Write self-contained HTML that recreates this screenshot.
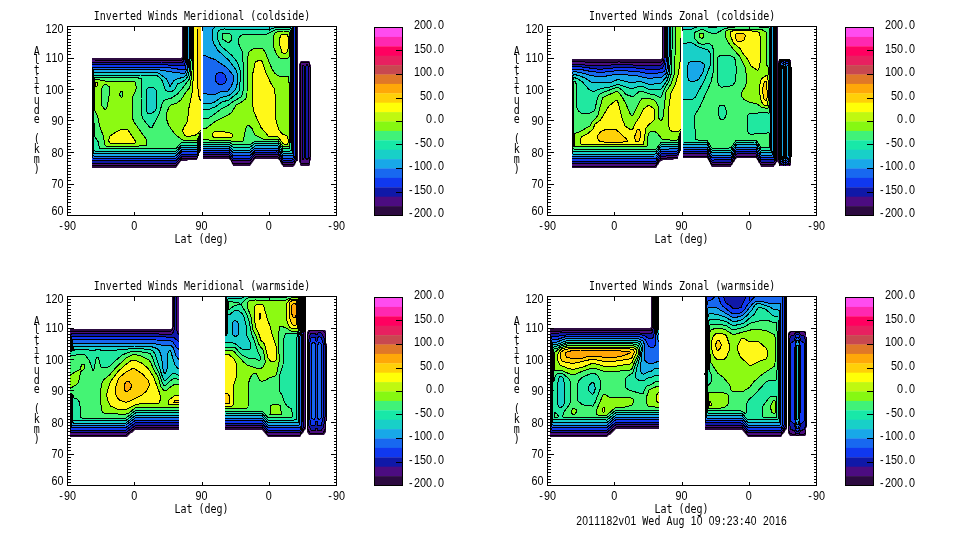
<!DOCTYPE html>
<html><head><meta charset="utf-8"><title>Inverted Winds</title>
<style>
html,body{margin:0;padding:0;background:#fff;overflow:hidden}
svg{display:block}
text{font-family:"DejaVu Sans Mono","Liberation Mono",monospace;font-size:10px;fill:#000}
.n{font-family:"Liberation Sans","DejaVu Sans",sans-serif;font-size:10.8px}
.d{font-family:"Liberation Sans","DejaVu Sans",sans-serif;font-size:10.35px}
.ln{fill:none;stroke:#000;stroke-width:1;shape-rendering:crispEdges}
.c{fill:none;stroke:#000;stroke-width:1;shape-rendering:crispEdges}
</style></head><body>
<svg width="960" height="540" viewBox="0 0 960 540">
<rect width="960" height="540" fill="#fff"/>
<path fill="#2c0a40" fill-rule="evenodd" d="M182 27l19 0l0 124l-2 2l0 2l-1 1l0 2l-1 1l0 1l-9 0l-1 1l-6 0l-5 7l-84 0l0 -110l89 0l1 -1l0 -30z"/><path fill="#4c0c80" fill-rule="evenodd" d="M183.5 27l17.5 0l0 122l-1 1.5l-3 7.5l-15 0.5l-6 7l-1 0l-83 0l0 -105.5l87 0.5l3 -0.5l1 -1.5l0.5 -1.5l0 -30z"/><path fill="#1018a8" fill-rule="evenodd" d="M184.5 27l16.5 0l0 120l-1 1l-3 8l-15 0.5l-6 6.5l-1 0l-83 0l0 -101l69 0l21 0.5l1.5 -1.5l1 -3l0 -31z"/><path fill="#1038f0" fill-rule="evenodd" d="M185.5 27l15.5 0l0 117.5l-1 1.5l-3 8l-15 0l-6 6.5l-1 0l-83 0l0 -96l69 0l21 1.5l2 -0.5l1 -2l0.5 -5.5l0 -31z"/><path fill="#1868f0" fill-rule="evenodd" d="M186.5 27l14.5 0l0 115.5l-1 1.5l-3 7.5l-15 0l-6 6.5l-1 0l-82 0l-0.5 -1l-0.5 -4l0 -69l0 -11l1 -5.5l2 -0.5l66 0l10 1l13 2l1 -0.5l0.5 -1.5l1 -6l0 -35z"/><path fill="#18a8e8" fill-rule="evenodd" d="M188 27l13 0l0 113.5l-1 1.5l-3 7.5l-15 0l-6 6l-1 0.5l-81 0l-1 -0.5l-0.5 -5.5l0 -70l0 -7l1 -3l1.5 -0.5l62 0l18 3l9 1l1 -0.5l2 -4l0.5 -6l0.5 -36z"/><path fill="#18d0c8" fill-rule="evenodd" d="M189 27l12 0l0 111.5l-1 1.5l-3 7.5l-15 -0.5l-1 0.5l-5 5.5l-1 0.5l-81 0l-0.5 -1.5l-0.5 -2l0 -66l0 -8l1 -3.5l63 0l3 1.5l6.5 5l3.5 7.5l4 -6l3 -1.5l7 -2l2 -1.5l1 -2.5l1 -5l1 -9l0 -32z"/><path fill="#20e8a0" fill-rule="evenodd" d="M190 27l11 0l0 109.5l-1 1l-3 8l-15 -0.5l-1 0.5l-5 5.5l-1 0l-81 -0.5l-0.5 -66.5l0.5 -8.5l2 -0.5l44 0l17 0.5l2 1.5l3.5 4l2 7l1 2l3.5 2l3 -0.5l3 -2.5l2.5 -5l5.5 -2.5l3 -2.5l2.5 -4l1 -6l0.5 -10l0 -32zM148 88l-1 1l-1 2l0 19l1.5 3l3.5 1l4 -3l1 -2l1 -9l-0.5 -7l-0.5 -3l-2 -2l-3 -1l-3 1z"/><path fill="#44f474" fill-rule="evenodd" d="M191 27l10 0l0 107.5l-1 1l-3 7.5l-15 -0.5l-1 0.5l-5 5.5l-1 0l-72 0l-3.5 -0.5l-1.5 -6.5l-3 -4l-0.5 -4.5l-0.5 -26l0 -28.5l1 -1l1 0l40 0l5 1l1 1.5l-0.5 8l-0.5 11l1 17l1 3l6 7.5l2 1.5l1 -0.5l7.5 -14.5l2.5 -9l1.5 -3l1.5 -1l6.5 -2l5.5 -3.5l5 -5.5l7 -9.5l1.5 -5.5l0.5 -13l0 -34z"/><path fill="#8cfa12" fill-rule="evenodd" d="M192.5 27l8.5 0l0 105l-1 1.5l-3 7.5l-1 0.5l-13.5 -1.5l-6.5 -5l-3.5 -4l-4 -6l-2 -6l0.5 -7l2 -5l2 -2l5 -1.5l5 -3.5l5 -8l3 -3.5l1 -2.5l1 -6l1 -8l0.5 -45zM94.5 80l0.5 -1l1 0l11 2.5l4 -0.5l21 0l2 0.5l1 0.5l1.5 6l-1.5 4l-2.5 5l-0.5 3l0 17l2 5l12 17l1 3l-1 3.5l-7 0.5l-31 0l-2 0l-1 -1l-2 -10l-3.5 -9l-1.5 -8.5l-3 -6.5l-1 -26l0.5 -5zM105 84.5l-2 1.5l-1 2l-0.5 15l0.5 3l3 3.5l1 -0.5l1.5 -3l1 -7l1 -5l0.5 -4l-0.5 -2l-0.5 -1.5l-3 -2l-1 0zM121 91l-1.5 3l0.5 1.5l1 1.5l1 0l1 -3l-1 -2.5l-1 -0.5z"/><path fill="#fff818" fill-rule="evenodd" d="M194 27l7 0l0 103l-3 3.5l-3 1.5l-3 1l-5 0.5l-2 -1l-2 -3.5l-0.5 -2l5 -9l1.5 -13.5l3.5 -16.5l1 -19l0.5 -45zM95.5 82l1.5 0l1 1l-1 3l-1 1l-1 -1.5l0 -2.5l0.5 -1zM122 129l4 0l2 1l7 10.5l0.5 2.5l-22.5 0.5l-3.5 -0.5l-1 -3l1.5 -4l6 -4l6 -3z"/><path fill="#ffd008" fill-rule="evenodd" d="M197 27l4 0l0 74l-1 -1.5l-1 -3l-1.5 -11.5l-0.5 -58z"/><path class="c" d="M92 60l87 0.5l3 -0.5l1 -1.5l0.5 -1.5l0 -30M201 149l-1 1.5l-3 7.5l-15 0.5l-6 7l-84 0M92 62l69 0l21 0.5l1.5 -1.5l1 -3l0 -31M201 147l-1 1l-3 8l-15 0.5l-6 6.5l-84 0M92 64.5l69 0l21 1.5l2 -0.5l1 -2l0.5 -5.5l0 -31M201 144.5l-1 1.5l-3 8l-15 0l-6 6.5l-84 0M201 142.5l-1 1.5l-3 7.5l-15 0l-6 6.5l-1 0l-81 0l-1 0l-1 -2l0 -81l1 -7.5l2 -0.5l66 0l10 1l13 2l1 -0.5l0.5 -1.5l1 -6l0 -35M201 140.5l-1 1.5l-3 7.5l-15 0l-6 6l-1 0.5l-81 0l-1 -0.5l-0.5 -1.5l0 -74l0 -7l1 -3l1.5 -0.5l62 0l18 3l9 1l1 -0.5l2 -4l0.5 -6l0.5 -36M201 138.5l-1 1.5l-3 7.5l-15 -0.5l-1 0.5l-5 5.5l-1 0.5l-80 0l-1.5 -0.5l-0.5 -2l0 -70l0 -6l1 -2.5l63 0l3 1.5l6.5 5l3.5 7.5l4 -6l3 -1.5l7 -2l2 -1.5l1 -2.5l1 -5l1 -9l0 -32M148 88l-1 1l-1 2l0 19l1.5 3l3.5 1l4 -3l1 -2l1 -9l-0.5 -7l-0.5 -3l-2 -2l-3 -1l-3 1M201 136.5l-1 1l-3 8l-15 -0.5l-1 0.5l-5 5.5l-81 0l-1 -1l-0.5 -67l0.5 -7.5l2 -0.5l44 0l17 0.5l2 1.5l3.5 4l2 7l1 2l3.5 2l3 -0.5l3 -2.5l2.5 -5l5.5 -2.5l3 -2.5l2.5 -4l1 -6l0.5 -10l0 -32M201 134.5l-1 1l-3 7.5l-15 -0.5l-1 0.5l-5 5.5l-1 0l-75 0l-0.5 -0.5l-1.5 -6.5l-3 -4.5l-1 -14l-0.5 -39l0.5 -5.5l1 -1l1 0l40 0l5 1l1 1.5l-0.5 8l-0.5 11l1 17l1 3l6 7.5l2 1.5l1 -0.5l7.5 -14.5l2.5 -9l1.5 -3l1.5 -1l6.5 -2l5.5 -3.5l5 -5.5l7 -9.5l1.5 -5.5l0.5 -13l0 -34M94.5 80l0.5 -1l1 0l11 2.5l4 -0.5l21 0l2 0.5l1 0.5l1.5 6l-1.5 4l-2.5 5l-0.5 3l0 17l2 5l12 17l1 3l-1 3.5l-7 0.5l-31 0l-2 0l-1 -1l-2 -10l-3.5 -9l-1.5 -8.5l-3 -6.5l-1 -26l0.5 -5M105 84.5l-2 1.5l-1 2l-0.5 15l0.5 3l3 3.5l1 -0.5l1.5 -3l1 -7l1 -5l0.5 -4l-0.5 -2l-0.5 -1.5l-3 -2l-1 0M121 91l-1.5 3l0.5 1.5l1 1.5l1 0l1 -3l-1 -2.5l-1 -0.5M201 132l-1 1.5l-3 7.5l-14.5 -1l-6.5 -5l-3.5 -4l-4 -6l-2 -6l0.5 -7l2 -5l2 -2l5 -1.5l5 -3.5l5 -8l3 -3.5l1 -2.5l1 -6l1 -8l0.5 -45M95.5 82l1.5 0l1 1l-1 3l-1 1l-1 -1.5l0 -2.5l0.5 -1M122 129l4 0l2 1l7 10.5l0.5 2.5l-22.5 0.5l-3.5 -0.5l-1 -3l1.5 -4l6 -4l6 -3M201 130l-3 3.5l-2.5 1.5l-6.5 1.5l-3 -0.5l-1 -0.5l-2.5 -4.5l1 -3l3.5 -6l0.5 -2l1.5 -12.5l3.5 -16.5l1 -19l0.5 -45M201 101l-1 -1.5l-1 -3l-1.5 -11.5l-0.5 -58"/><path fill="#2c0a40" fill-rule="evenodd" d="M203 27l95 0l0 134l-1 0l-1 1l-1 3l-2 2l-10 0l0 -1l-2 -2l-1 -3l-2 -2l-23 0l-5 7l-17 0l0 -1l-1 -1l-1 -3l-2 -2l-26 0l0 -132z"/><path fill="#4c0c80" fill-rule="evenodd" d="M203 27l93.5 0l0 132l-1 3l-2.5 2.5l-10 0l-5 -7.5l-1 -0.5l-21 0l-1 1l-5 6l-1 0l-16 0l-4 -6.5l-1 -0.5l-25 0l0 -129.5z"/><path fill="#1018a8" fill-rule="evenodd" d="M203 27l92.5 0l0 131l-0.5 2l-2 2.5l-10 0l-5 -8l-1 0l-21 0l-1 0.5l-5 5.5l-1 0.5l-16 -0.5l-4 -5.5l-1 -0.5l-25 0l0 -127.5z"/><path fill="#1038f0" fill-rule="evenodd" d="M203 27l92 0l0 129l-0.5 2l-1.5 2l-10 0l-5 -7.5l-1 -0.5l-21 0.5l-1 0l-5 5.5l-1 0l-16 0l-4 -5.5l-1 0l-25 0l0 -125.5z"/><path fill="#1868f0" fill-rule="evenodd" d="M203 27l91 0l0 127l-0.5 3l-0.5 1l-10 0l-5 -8l-1 0l-21 0l-1 0.5l-5 5l-1 0l-16 0l-4 -5l-1 0l-25 0l0 -123.5zM218 73l-1.5 1l-1.5 3l0.5 4l1.5 2l1.5 1l2.5 0.5l2 -0.5l2 -1l1 -2l0 -3l-1 -3l-3 -2.5l-2 -0.5l-2 1z"/><path fill="#18a8e8" fill-rule="evenodd" d="M203 27l90 0l0 126l0 2l-1 0.5l-9 0l-5 -7.5l-1 0l-21 0l-1 0l-5 4.5l-1 0l-16 0l-4 -4l-1 0l-25 0l0 -55.5l6 1.5l5 0.5l7 -3.5l7 -0.5l3 -4l2 -5l1 -4l-0.5 -2l-2 -3l-5.5 -6l-11 -7.5l-6 -2l-4 -2l-2 -0.5l0 -28z"/><path fill="#18d0c8" fill-rule="evenodd" d="M214 28l0.5 -1l77.5 0l0 126l-9 0l-5 -7l-1 -0.5l-21 0l-1 0.5l-5 4l-1 0l-16 0l-4 -3.5l-1 0l-25 0l0 -43l5 0.5l6 -1.5l7 -5l7 -1.5l2 -1l3 -3l2.5 -3l1.5 -4l0.5 -5l-0.5 -6l-2 -5.5l-6.5 -8.5l-10.5 -9.5l-4.5 -7.5l-1 -4l-0.5 -6l0 -2l2 -3z"/><path fill="#20e8a0" fill-rule="evenodd" d="M274.5 28l14.5 -0.5l1 0l1 1.5l0 121.5l-1 0.5l-7 0l-5 -7.5l-1 0l-22 0l-5 3.5l-1 0.5l-16 -0.5l-4 -2.5l-1 -0.5l-25 0l0 -35l5 0.5l2 -0.5l6 -2.5l6 -4.5l8 -3l7.5 -6l1.5 -3l1 -4l0.5 -10l-0.5 -7l-1.5 -5l-2 -3l-4.5 -5.5l-10 -8.5l-1.5 -2l-3 -6l0 -5l0 -2l2.5 -2l3 -1l43 1l8.5 -2z"/><path fill="#44f474" fill-rule="evenodd" d="M275.5 30l6.5 -0.5l7 0l1 0.5l0 1l0 117.5l-7 0l-5 -7l-1 0l-22 0l-5 3l-1 0l-16 0l-4 -2.5l-1 0l-25 0l0 -24l4 0.5l2 -0.5l13 -9.5l6 -3l6 -4.5l7 -4l1 -2l1 -5l1 -10l-0.5 -13l-0.5 -8l-1 -7l-3.5 -10l0 -3l1 -2l2.5 -2l6 -1l19 0l5.5 -3l3 -1zM224 33l5 0l2 2l1 3l-1 2.5l-1.5 1.5l-1.5 0.5l-1 -0.5l-4.5 -3l-0.5 -2l0 -2l1 -1.5l1 -0.5z"/><path fill="#8cfa12" fill-rule="evenodd" d="M283.5 31l4.5 0l1 1l0.5 23l-0.5 2l-1 1l-6 1l-3 -1.5l-2.5 -3.5l-3 -7l-0.5 -7l1 -5l1 -2l3 -1.5l5.5 -0.5zM260 48l2.5 1l2.5 3l2.5 5l4.5 12l3 4.5l3 2l4 1.5l6 -1l1 6.5l0 7.5l0.5 52l-0.5 4l-6 0.5l-5 -7l-14.5 -0.5l-7.5 -3l-1.5 -2l-2.5 -6l-3 -2.5l-2 0.5l-1 2l-3 13l-1 0.5l-9 0.5l-4 -2l-20 0l-6 -0.5l0 -10.5l3 -0.5l9 -7l14 -7l3 -2.5l4 -7l4 -2l5.5 -4l1 -2l0.5 -4l0.5 -33l1 -7l1.5 -2l2 -1.5l3 -1l5 -0.5z"/><path fill="#fff818" fill-rule="evenodd" d="M283 34l4 0l1 2.5l0 12.5l-1 3.5l-1 0.5l-3 0l-1 -0.5l-3 -9.5l0 -3l1 -2.5l1 -2.5l2 -1zM257.5 61l2.5 -0.5l1 0l1 1l4.5 12.5l4.5 9.5l3.5 5.5l1 10l0.5 21l2.5 9l2 3l2 2l4.5 2l1 3l0 4l-0.5 1l-3.5 0l-1 -0.5l-5 -6.5l-8 -0.5l-2 -0.5l-2 -3l-5 -5.5l-7 -15.5l-1.5 -8l0 -29l2.5 -12l1 -1.5l1.5 -0.5zM215 131l2 0l12 1.5l3 1.5l0.5 2l-0.5 1l-2 0.5l-16 0l-1.5 -1.5l0 -2l1.5 -2l1 -1z"/><path class="c" d="M296.5 27l0 131l0 2l-2.5 4l-2 1l-9 -0.5l-5 -7.5l-1 -0.5l-21 0l-1 1l-5 6l-1 0l-16 0l-4 -6.5l-1 -0.5l-25 0M295.5 27l0 130l0 2l-1.5 2.5l-2 1l-9 0l-5 -8l-1 0l-21 0l-1 0.5l-5 5.5l-1 0.5l-16 -0.5l-4 -5.5l-1 -0.5l-25 0M295 27l0 129l-1 3.5l-2 0.5l-9 0l-5 -7.5l-1 -0.5l-21 0.5l-1 0l-5 5.5l-1 0l-16 0l-4 -5.5l-1 0l-25 0M294 27l-0.5 130l-0.5 1l-1 0l-9 0l-5 -8l-1 0l-21 0l-1 0.5l-5 5l-1 0l-16 0l-4 -5l-1 0l-25 0M218 73l-1.5 1l-1.5 3l0.5 4l1.5 2l1.5 1l2.5 0.5l2 -0.5l2 -1l1 -2l0 -3l-1 -3l-3 -2.5l-2 -0.5l-2 1M293 27l0 128l-1 0.5l-9 0l-5 -7.5l-1 0l-21 0l-1 0l-5 4.5l-1 0l-16 0l-4 -4l-1 0l-25 0M203 93l6 1.5l5 0.5l7 -3.5l7 -0.5l3 -4l2 -5l1 -4l-0.5 -2l-2 -3l-5.5 -6l-11 -7.5l-6 -2l-4 -2l-2 -0.5M292 27l0 126l-9 0l-5 -7l-1 -0.5l-21 0l-1 0.5l-5 4l-1 0l-16 0l-4 -3.5l-1 0l-25 0M203 103.5l5 0.5l6 -1.5l7 -5l8 -2l3 -2.5l3 -3l1.5 -3l1 -5l0 -7l-1 -4l-1.5 -2.5l-6.5 -8.5l-10.5 -9.5l-4.5 -7.5l-1 -4l-0.5 -7l0.5 -2l2 -3M203 109l5 0.5l2 -0.5l6 -2.5l6 -4.5l7 -2l8 -6.5l2 -2.5l0.5 -3l1 -12l-0.5 -6l-1.5 -5l-2 -4l-4.5 -5.5l-10 -8.5l-2 -2.5l-2 -4.5l-0.5 -3l0 -4l1.5 -2.5l2 -1l3 -0.5l43 1l9 -2.5l14 0l1 1l0 1.5l0 12l0 108.5l-1 0.5l-7 0l-5 -7.5l-1 0l-22 0l-5 3.5l-1 0.5l-16 -0.5l-4 -2.5l-1 -0.5l-25 0M224 33l5 0l2 2l1 3l-1 2.5l-1.5 1.5l-1.5 0.5l-1 -0.5l-4.5 -3l-0.5 -2l0 -2l1 -1.5l1 -0.5M203 118l4 0.5l2 -0.5l13 -9.5l6 -3l6 -4.5l7 -4l1 -2l1.5 -6l0.5 -14l-1.5 -20l-0.5 -4l-3 -6.5l-0.5 -3.5l0.5 -3l1.5 -2l1.5 -1l6 -1l19 0l8 -4l6 -0.5l8 0l1 0.5l0 1l0.5 11l-0.5 106.5l-7 0l-5 -7l-1 0l-22 0l-5 3l-1 0l-16 0l-4 -2.5l-1 0l-25 0M283.5 31l4.5 0l1 1l0.5 23l-0.5 2l-1 1l-6 1l-3 -1.5l-2.5 -3.5l-3 -7l-0.5 -7l1 -5l1 -2l3 -1.5l5.5 -0.5M203 129l3 -0.5l9 -7l14 -7l3 -2.5l4 -7l4 -2l5.5 -4l1 -2l0.5 -4l0.5 -33l1 -7l1.5 -2l3 -2l3 -0.5l5 -0.5l2 1l2.5 4l6.5 16l3 4.5l3 2l4 1.5l6 -1l1 6.5l0 6.5l0.5 53l-0.5 4l-5 0.5l-1 0l-5 -7l-15 -0.5l-8 -4l-3 -6.5l-3 -3l-2 0.5l-1 2l-3 13l-1 0.5l-9 0.5l-4 -2l-20 0l-6 -0.5M283 34l4 0l1 2.5l0 12.5l-1 3.5l-1 0.5l-3 0l-1 -0.5l-3 -9.5l0 -3l1 -2.5l1 -2.5l2 -1M257.5 61l2.5 -0.5l1 0l1 1l4.5 12.5l4.5 9.5l3.5 5.5l1 10l0.5 21l2.5 9l2 3l2 2l4.5 2l1 3l0 4l-0.5 1l-3.5 0l-1 -0.5l-5 -6.5l-8 -0.5l-2 -0.5l-2 -3l-5 -5.5l-7 -15.5l-1.5 -8l0 -29l2.5 -12l1 -1.5l1.5 -0.5M215 131l2 0l12 1.5l3 1.5l0.5 2l-0.5 1l-2 0.5l-16 0l-1.5 -1.5l0 -2l1.5 -2l1 -1"/><path fill="#2c0a40" fill-rule="evenodd" d="M662 27l19 0l0 123l-2 3l0 2l-1 1l0 3l-4 0l-1 1l-10 0l-1 1l-1 0l-2 2l0 1l-2 2l0 1l-1 1l-84 0l0 -109l89 0l1 -1l0 -31z"/><path fill="#4c0c80" fill-rule="evenodd" d="M663 27l18 0l0 121l-3 9l-17 1.5l-5 7l-1 0.5l-83 0l0 -104.5l25 1l22 -0.5l29 0.5l13 -0.5l1 -1l0.5 -3l0.5 -31z"/><path fill="#1018a8" fill-rule="evenodd" d="M664.5 27l16.5 0l0 119l-3 8.5l-1 0.5l-16 1.5l-5 7l-1 0l-83 0l0 -99.5l25 2l21 -1.5l15 0.5l15 1l13 -1l2 -2l1 -4l0.5 -32z"/><path fill="#1038f0" fill-rule="evenodd" d="M665.5 27l15.5 0l0 116.5l-3 9l-1 0.5l-16 1l-5 7l-1 0l-83 0l0 -94.5l10 0.5l15 2l6 0l15 -1.5l18 0.5l13 1.5l11 -0.5l2 -0.5l2 -3l1 -5.5l0.5 -33z"/><path fill="#1868f0" fill-rule="evenodd" d="M666.5 27l14.5 0l0 114.5l-3 9l-1 0.5l-16 0.5l-5 7l-1 0l-83 0l0 -89.5l9 0.5l10 2l10 1l17 -2l20 1l11 2.5l13 -1.5l2 -1l1 -1.5l1 -6l0.5 -37z"/><path fill="#18a8e8" fill-rule="evenodd" d="M667.5 27l13.5 0l0 112.5l-3 9l-1 0l-16 1l-5 6.5l-1 0.5l-83 0l0 -82.5l1 -2l2 -0.5l5 1l11 3l6 1l7 0l13 -2.5l21 2l11 2.5l13 -1.5l4 -3.5l1 -4l0.5 -12.5l0 -30z"/><path fill="#18d0c8" fill-rule="evenodd" d="M669 27l12 0l0 110.5l-3 8.5l-1 0.5l-16 0.5l-5 6.5l-1 0.5l-82 0l-1 -3l0 -10l0 -58l1 -7.5l1 -1l5 1l6 2.5l6 4l4 0.5l7 -0.5l8 1l5 -2.5l3 -1l14 3.5l6 -1.5l4 0.5l8 2.5l11 -1.5l5 -5.5l2 -5.5l1 -15l0 -30z"/><path fill="#20e8a0" fill-rule="evenodd" d="M670.5 27l10.5 0l0 108.5l-3 8.5l-1 0.5l-16 0.5l-5 6.5l-1 0l-81 0l-1 -0.5l-0.5 -5l0 -62l0.5 -4.5l1 -2l3 1l5 3l7 8l3 1.5l3 0l6 -2.5l9 -1.5l7 -2.5l3 0.5l6 2l5 1.5l2 0l5 -2l4 -0.5l2 1l5 2.5l11 0.5l2 -2l5 -7.5l2.5 -7.5l1 -16l0 -30z"/><path fill="#44f474" fill-rule="evenodd" d="M672.5 27l8.5 0l0 106.5l-1 1.5l-2 7l-1 0.5l-16 0l-5 6.5l-1 0l-81 0l-1 -0.5l1 -67l1.5 0.5l1 3l0 19l0.5 4l2 3.5l2 1.5l2 1l6 -0.5l5 -2.5l1 -2l2.5 -11l1 -2l1.5 -2l3 -1.5l13 -5l3 0.5l3 2l4 4.5l6 2l2 -0.5l4.5 -4l3.5 -1l6 2.5l7 1.5l5 2.5l1 -0.5l3.5 -8l4.5 -8l2.5 -8l1 -46z"/><path fill="#8cfa12" fill-rule="evenodd" d="M675.5 27l5.5 0l0 104l-1.5 3l-1.5 5.5l-1 0.5l-6 0l-3 -1l-6 0l-6 -7l-2 -0.5l-3.5 0.5l-1.5 1l-1.5 5l-0.5 8l-1 0.5l-72 0l0 -11.5l1 -1.5l4 -1.5l11 -6l2 -4l4 -4l2 -3l4.5 -17l1.5 -1l12 -5.5l2 0.5l3.5 4l4 7l4.5 10.5l2 2.5l1 -1l6.5 -13l2.5 -3.5l2 -0.5l4 0l6 2l2 2l2 4l1 12.5l1 1.5l1 0.5l1 -1l1 -2.5l3 -25l5.5 -9l3 -10l0.5 -17l0.5 -29z"/><path fill="#fff818" fill-rule="evenodd" d="M681 38l0 91l-2 2l-5 1l-3 -1l-1 -1l-1 -2.5l-0.5 -3.5l0 -15l2.5 -16l4 -8l3.5 -11l2 -16l0.5 -20zM615 101l1 -1l1 0.5l1 2l4 15.5l3 8l2 1.5l4 2.5l1 -0.5l1 -1l2.5 -5.5l4 -6l3.5 -7l1 -1.5l3.5 -2.5l1.5 -0.5l2.5 1.5l2.5 2l0.5 5l-0.5 6l-6 5.5l-2 2.5l-2.5 16l-62.5 0l-1 -2l0 -2l2 -3.5l6 -3l5 -4.5l2 -5l5.5 -4l8.5 -14l6 -5z"/><path fill="#ffd008" fill-rule="evenodd" d="M638 129l1 0l1 1.5l1 4.5l-2 6l-2 0.5l-1.5 -0.5l-1 -4l2.5 -7l1 -1zM604.5 130l5.5 -1l6 0.5l10.5 9.5l1 2l-4.5 1l-19 0l-4 -0.5l-3 -3.5l0 -2l4 -4.5l3.5 -1.5z"/><path class="c" d="M572 61.5l25 1l22 -0.5l29 0.5l13 -0.5l1 -1l0.5 -3l0.5 -31M681 148l-2 5M679 153.5l-0.5 2M678 157l-17 1.5l-5 7l-1 0.5l-83 0M572 64l25 2l21 -1.5l15 0.5l15 1l13 -1l2 -2l1 -4l0.5 -32M681 146l-3 8.5l-1 0.5l-16 1.5l-5 7l-84 0M572 66.5l10 0.5l15 2l6 0l15 -1.5l18 0.5l13 1.5l11 -0.5l2 -0.5l2 -3l1 -5.5l0.5 -33M681 143.5l-3 9l-1 0.5l-16 1l-5 7l-84 0M572 69l9 0.5l10 2l10 1l17 -2l20 1l11 2.5l13 -1.5l2 -1l1 -1.5l1 -6l0.5 -37M681 141.5l-3 9l-1 0.5l-16 0.5l-5 7l-84 0M572 74l1 -2l2 -0.5l7 1.5l9 2.5l6 1l7 0l13 -2.5l21 2l11 2.5l13 -1.5l4 -3.5l1 -4l0.5 -12.5l0 -30M681 139.5l-3 9l-1 0l-16 1l-5 6.5l-84 0.5M681 137.5l-3 8.5l-1 0.5l-16 0.5l-5 6.5l-1 0.5l-81 0l-1 0l-1 -3l0 -67l1 -8.5l1 -1l5 1l6 2.5l6 4l4 0.5l7 -0.5l8 1l5 -2.5l3 -1l14 3.5l6 -1.5l4 0.5l8 2.5l11 -1.5l5 -5.5l2 -5.5l1 -15l0 -30M681 135.5l-3 8.5l-1 0.5l-16 0.5l-5 6.5l-1 0l-81 0l-1 -0.5l-0.5 -2l0 -65l0.5 -4.5l1 -2l3 1l5 3l7 8l3 1.5l3 0l6 -2.5l9 -1.5l7 -2.5l3 0.5l6 2l5 1.5l2 0l5 -2l4 -0.5l2 1l5 2.5l11 0.5l2 -2l5 -7.5l2.5 -7.5l1 -16l0 -30M681 133.5l-1 1.5l-2 7l-1 0.5l-16 0l-5 6.5l-1 0l-81 0l-1 -1l1 -66.5l1.5 0.5l1 3l0 19l0.5 4l2 3.5l2 1.5l2 1l6 -0.5l5 -2.5l1 -2l2.5 -11l1 -2l1.5 -2l3 -1.5l13 -5l3 0.5l3 2l4 4.5l6 2l2 -0.5l4.5 -4l3.5 -1l6 2.5l7 1.5l5 2.5l1 -0.5l3.5 -8l4.5 -8l2.5 -8l1 -46M681 131l-1.5 3l-1.5 5.5l-1 0.5l-7 0l-2 -1l-6 0l-5 -6l-2 -1.5l-5 0.5l-1 1l-1.5 4l-0.5 9l-1 0.5l-70 0l-2 0l0 -0.5l0 -11l1 -1.5l4 -1.5l11 -6l2 -4l4 -4l2 -3l4.5 -17l1.5 -1l12 -5.5l2 0.5l3.5 4l4 7l4.5 10.5l2 2.5l1 -1l6.5 -13l2.5 -3.5l2 -0.5l4 0l6 2l2 2l2 4l1 12.5l1 1.5l1 0.5l1 -1l1 -2.5l3 -25l5.5 -9l3 -10l0.5 -17l0.5 -29M615 101l1 -1l1 0.5l1 2l4 15.5l3 8l2 1.5l4 2.5l1 -0.5l1 -1l2.5 -5.5l4 -6l3.5 -7l1 -1.5l3.5 -2.5l1.5 -0.5l2.5 1.5l2.5 2l0.5 5l-0.5 6l-6 5.5l-2 2.5l-2.5 16l-62.5 0l-1 -2l0 -2l2 -3.5l6 -3l5 -4.5l2 -5l5.5 -4l8.5 -14l6 -5M681 129l-2 2l-4 1l-3 -0.5l-2 -1.5l-1.5 -5l0 -11l0.5 -8l2 -13l4.5 -9l3 -11l2 -15l0.5 -20M638 129l1 0l1 1.5l1 4.5l-2 6l-2 0.5l-1.5 -0.5l-1 -4l2.5 -7l1 -1M604.5 130l5.5 -1l6 0.5l10.5 9.5l1 2l-4.5 1l-19 0l-4 -0.5l-3 -3.5l0 -2l4 -4.5l3.5 -1.5"/><path fill="#2c0a40" fill-rule="evenodd" d="M683 27l95 0l0 134l-2 2l0 1l-2 2l0 1l-13 0l-1 -3l-2 -2l0 -1l-2 -3l-19 0l-2 2l0 1l-2 2l0 1l-2 2l0 1l-19 0l-1 -1l0 -1l-1 -1l0 -1l-3 -5l-24 0l0 -131z"/><path fill="#4c0c80" fill-rule="evenodd" d="M683 27l93.5 0l0 132l0 2l-2.5 3.5l-13 0l-5 -8.5l-1 0l-18 0l-1 1l-5 7.5l-17 0l-2 0l-1 -1l-4 -7.5l-24 0l0 -129z"/><path fill="#1018a8" fill-rule="evenodd" d="M683 27l92.5 0l0 131l0 2l-1.5 2l-13 0l-5 -8l-1 -0.5l-18 0.5l-1 0.5l-5 7.5l-17 0.5l-2 -0.5l-1 -0.5l-4 -7.5l-24 -0.5l0 -126.5z"/><path fill="#1038f0" fill-rule="evenodd" d="M683 27l91.5 0l0 128l0 3l-0.5 1.5l-13 0l-5 -8l-1 0l-18 0l-1 0.5l-5 7.5l-17 0.5l-2 0l-1 -1l-4 -7.5l-24 0l0 -124.5z"/><path fill="#1868f0" fill-rule="evenodd" d="M683 27l90.5 0l0 126l0 3l-0.5 1.5l-12 0l-5 -8l-1 -0.5l-18 0l-1 1l-5 7.5l-17 0l-2 0l-1 -1l-4 -7l-24 -0.5l0 -122z"/><path fill="#18a8e8" fill-rule="evenodd" d="M683 27l90 0l0 124l-0.5 3l-0.5 1l-11 0l-5 -8l-1 0l-18 0l-1 0.5l-5 7.5l-17 0l-2 0l-1 -1l-4 -7l-24 0l0 -120z"/><path fill="#18d0c8" fill-rule="evenodd" d="M683 27l89 0l0 122l-0.5 2l-0.5 1.5l-10 0l-5 -8l-1 0l-18 0l-1 1l-5 7l-17 0l-2 0l-1 -1l-4 -7l-24 0l0 -117.5zM693 61l-2 0.5l-2 1l-1.5 3.5l0.5 12l1 2.5l3 1.5l5 -1.5l2 -1.5l4.5 -8l1 -5l-0.5 -2l-3 -2l-8 -1z"/><path fill="#20e8a0" fill-rule="evenodd" d="M695 28l1.5 -1l11 0l5.5 0.5l4 -0.5l53.5 0l0.5 120l-0.5 2l-0.5 1l-9 0l-5 -7.5l-1 -0.5l-18 0.5l-1 0.5l-5 7l-17 0.5l-2 -0.5l-1 -0.5l-4 -7l-24 -0.5l0 -43l8 0.5l2 -0.5l2.5 -2l9.5 -18l5.5 -14l-0.5 -11l-0.5 -2l-1.5 -2l-8 -2.5l-9 -5l-8 1l0 -14l8 0l4 -1.5z"/><path fill="#44f474" fill-rule="evenodd" d="M727.5 28l7.5 -1l23.5 0l9.5 1l1 0l0.5 1l0.5 48l-0.5 34l-0.5 2l-1 0l-5 -1l-5 1l-7 0l-2 1l-2 3l0 10l0.5 5l2.5 2.5l8 -1l6 0.5l4 -1.5l1 0.5l0.5 8l-0.5 6.5l-8 0l-5 -7.5l-5 0l-14 0l-1 0.5l-5 7l-19 0.5l-1 -1l-4 -7l-9 0l-2.5 -1l-1 -20l0 -3l5.5 -9.5l11 -24.5l2.5 -10l0.5 -12l-0.5 -9l-0.5 -3.5l-1 -2l-3 -2l-7 1l-3.5 -1.5l-3.5 -4l-1 -3l0 -2l1 -1.5l2 -1.5l5 -1.5l3 1l5 2.5l5 1l9 -5l3.5 -1zM723 55l-3.5 1l-1.5 1l-0.5 2l0 12l0.5 12l0.5 2l2.5 2l2 0l6 -0.5l4 -1.5l2 -3l1.5 -12l-1 -9l-1 -3l-3.5 -2l-2 -1l-6 0zM721 105l-1.5 1l-1 2l0 6l1 4l1.5 1.5l1 0.5l2 -1l1.5 -2l0.5 -2l0 -5l-0.5 -2l-1 -2l-1.5 -1l-2 0z"/><path fill="#8cfa12" fill-rule="evenodd" d="M732 29l26 0l4.5 1l3.5 2l0 32l2 3l1 8l0 30l-1 3.5l-6 -1l-5 -3.5l-8 -2l-5 -2.5l-2 -2.5l-0.5 -3l0.5 -2l3.5 -6l0.5 -2l0 -11l-0.5 -5l-2 -4l-4 -8l-6.5 -7l-5 -7l-3 -6l0 -3l1 -2l3 -1.5l3 -0.5zM701 33l2 0.5l1 1.5l-0.5 2l-1.5 1.5l-2 -1l-1 -1.5l0.5 -2l1.5 -1z"/><path fill="#fff818" fill-rule="evenodd" d="M732.5 31l4.5 -1l6 0l14 1.5l2 1l1 3.5l0 27l-1 5l-1 2l-1 0l-6 -4l-3.5 -7l-3.5 -4l-4 -6.5l-6.5 -5.5l-3.5 -8l0.5 -3l2 -1zM765.5 76l1.5 -0.5l1 4.5l0 21l-0.5 3l-0.5 1.5l-3 -0.5l-2.5 -3l-1 -4l-1 -7l0.5 -7l1 -4l1.5 -2l3 -2z"/><path fill="#ffd008" fill-rule="evenodd" d="M736 34l3 -1l3 0l2 1l1 1l0 2l-1 3l-3 1.5l-3 0l-1 -0.5l-2 -4l1 -3zM766 81l0.5 2l0.5 7l0 8l-1 3l-2 -2l-1.5 -8l1 -7l1 -2l1.5 -1z"/><path class="c" d="M776.5 27l0 132l0 2l-2.5 3.5l-13 0l-5 -8.5l-1 0l-18 0l-1 1l-5 7.5l-17 0l-2 0l-1 -1l-4 -7.5l-24 0M775.5 27l0 131l0 2l-1.5 2l-13 0l-5 -8l-1 -0.5l-18 0.5l-1 0.5l-5 7.5l-17 0.5l-2 -0.5l-1 -0.5l-4 -7.5l-24 -0.5M774.5 27l0 128l0 3l-0.5 1.5l-13 0l-5 -8l-1 0l-18 0l-1 0.5l-5 7.5l-17 0.5l-2 0l-1 -1l-4 -7.5l-24 0M773.5 27l0 126l0 3l-0.5 1.5l-12 0l-5 -8l-1 -0.5l-18 0l-1 1l-5 7.5l-17 0l-2 0l-1 -1l-4 -7l-24 -0.5M773 27l0 124l-0.5 3l-0.5 1l-11 0l-5 -8l-1 0l-18 0l-1 0.5l-5 7.5l-17 0l-2 0l-1 -1l-4 -7l-24 0M772 27l-0.5 125l-0.5 0.5l-1 0l-9 0l-5 -8l-1 0l-18 0l-1 1l-5 7l-17 0l-2 0l-1 -1l-4 -7l-24 0M693 61l-2 0.5l-2 1l-1.5 3.5l0.5 12l1 2.5l3 1.5l5 -1.5l2 -1.5l4.5 -8l1 -5l-0.5 -2l-3 -2l-8 -1M707.5 27l5.5 0.5l4 -0.5M770.5 27l0.5 120l-0.5 3l-9.5 0l-5 -7.5l-1 -0.5l-18 0.5l-1 0.5l-5 7l-17 0.5l-2 -0.5l-1 -0.5l-4 -7l-24 -0.5M683 29.5l8 0l5.5 -2.5M683 99l8 0.5l2 -0.5l2.5 -2l9.5 -18l5 -13l0.5 -3l-0.5 -10l-2 -3l-8 -2.5l-9 -5l-8 1M758.5 27l10.5 1l0.5 2l0 80l-0.5 3l-1 0l-5 -1l-5 1l-7 0l-2 1l-1.5 2l-0.5 2l0 11l1.5 4l2.5 1.5l7 -1l6 0.5l4 -1.5l1 0.5l0.5 14l-0.5 0.5l-1 0.5l-7 -0.5l-5 -7.5l-18 0l-2 0.5l-5 7l-2 0.5l-17 0l-1 -1l-4 -7l-9 0l-2.5 -1l-1 -22l0.5 -2l5 -8.5l11 -24.5l2.5 -11l0.5 -12l-0.5 -9l-1.5 -4.5l-3 -2l-7 1l-3.5 -1.5l-3.5 -4l-1 -4l0.5 -2l1 -1l5.5 -2.5l3 0.5l5 2.5l6 1.5l10 -5.5l5 -1l5 -0.5M723 55l-3.5 1l-1.5 1l-0.5 2l0 12l0.5 12l0.5 2l2.5 2l2 0l6 -0.5l4 -1.5l2 -3l1.5 -12l-1 -9l-1 -3l-3.5 -2l-2 -1l-6 0M721 105l-1.5 1l-1 2l0 6l1 4l1.5 1.5l1 0.5l2 -1l1.5 -2l0.5 -2l0 -5l-0.5 -2l-1 -2l-1.5 -1l-2 0M732 29l26 0l4.5 1l3.5 2l0 32l2 3l1 8l0 30l-1 3.5l-6 -1l-5 -3.5l-8 -2l-5 -2.5l-2 -2.5l-0.5 -3l0.5 -2l3.5 -6l0.5 -2l0 -11l-0.5 -5l-2 -4l-4 -8l-6.5 -7l-5 -7l-3 -6l0 -3l1 -2l3 -1.5l3 -0.5M701 33l2 0.5l1 1.5l-0.5 2l-1.5 1.5l-2 -1l-1 -1.5l0.5 -2l1.5 -1M732.5 31l4.5 -1l6 0l14 1.5l2 1l1 3.5l0 27l-1 5l-1 2l-1 0l-6 -4l-3.5 -7l-3.5 -4l-4 -6.5l-6.5 -5.5l-3.5 -8l0.5 -3l2 -1M765.5 76l1.5 -0.5l1 4.5l0 21l-0.5 3l-0.5 1.5l-3 -0.5l-2.5 -3l-1 -4l-1 -7l0.5 -7l1 -4l1.5 -2l3 -2M736 34l3 -1l3 0l2 1l1 1l0 2l-1 3l-3 1.5l-3 0l-1 -0.5l-2 -4l1 -3M766 81l0.5 2l0.5 7l0 8l-1 3l-2 -2l-1.5 -8l1 -7l1 -2l1.5 -1"/><path fill="#2c0a40" fill-rule="evenodd" d="M172 297l7 0l0 133l-44 0l-3 3l-1 0l-4 4l-57 0l0 -108l101 0l1 -1l0 -31z"/><path fill="#4c0c80" fill-rule="evenodd" d="M173 297l6 0l0 130.5l-43 0l-10 7.5l-56 0l0 -103l1 -1l2 0l98 0l1 -1l1 -3l0 -30z"/><path fill="#1018a8" fill-rule="evenodd" d="M175 297l1 0l0 32l1.5 4l1.5 2l0 90l-43 0l-10 7.5l-55 0l-0.5 -0.5l-0.5 -3l0 -79.5l0.5 -1.5l0.5 -14l1 -1l1 0l75 0l11 1l11 0l2 0l1.5 -2l1 -4l0.5 -31z"/><path fill="#1038f0" fill-rule="evenodd" d="M72 337l2 -1l75 0l24 1.5l2 0.5l4 4l0 80.5l-43 0l-10 7.5l-55 0l-0.5 -4l0 -29l-0.5 -1.5l0 -45.5l1 -1l0.5 -8l0.5 -4z"/><path fill="#1868f0" fill-rule="evenodd" d="M72.5 340l1.5 -0.5l75 0l22 1.5l2 1l4 6l2 1.5l0 70.5l-43 0l-10 7.5l-54 0l-0.5 -0.5l-0.5 -3l0 -28l-1 -1l0 -44.5l1 -0.5l1 -1l0 -7.5l0.5 -1.5z"/><path fill="#18a8e8" fill-rule="evenodd" d="M74 343l75 0l15 2.5l6 -0.5l2 1l4 10l3 3.5l0 58l-43 0l-10 7.5l-54 0l-0.5 -4l0 -25l-0.5 -1l-1 -0.5l0 -44l2 -0.5l1 -6.5l1 -0.5z"/><path fill="#18d0c8" fill-rule="evenodd" d="M129.5 346l20.5 0.5l5 1l3 1.5l1.5 2l1 2l2.5 16l1 3.5l1 1l1 -1.5l1 -3l0.5 -15l1.5 -3l1 -0.5l1 1.5l3 11l2.5 4l2.5 2l0 46l-43 0l-10 8l-53 0l-1 -1l0 -26l-0.5 -1l-1.5 -0.5l0 -43.5l3 -1l1 -3.5l1 -0.5l54.5 0z"/><path fill="#20e8a0" fill-rule="evenodd" d="M128.5 349l5.5 -1l15 1.5l4 1.5l1.5 2l1 2l7 22l1.5 3l1 0.5l1 -0.5l5 -5l2 -1.5l2 0l4 2l0 37l-43 0l-10 8l-53 -0.5l-0.5 -24l-0.5 -1l-2 -1l0 -42.5l6 -2l8 0l9 1l5 -1l5 1l6 0l19.5 -1.5z"/><path fill="#44f474" fill-rule="evenodd" d="M132 351l3 0l8.5 1l5.5 1l1.5 1l2 3l3 9l3.5 7l3 9l2 3.5l2 -0.5l4 -4l4 -2.5l2 0l3 1.5l0 30l-43 0l-10 8l-42 0l-3 -0.5l-1 -0.5l0.5 -10l-1.5 -5l-2 -3l-3 -1l-1 -3l-1 -1l-2 -0.5l0 -38.5l6 0l6 -1l2 0l2 2l3.5 5l3.5 9.5l1 -1l2 -10.5l1 -2l1 0l3 10l1 1l2 0l6 -2l4 -4l8 -7l10 -4z"/><path fill="#8cfa12" fill-rule="evenodd" d="M131 355l3 -0.5l3.5 0.5l6.5 2.5l5 2.5l1.5 2l3.5 8l4 7l3 10l3 3.5l1 0l2 -0.5l4 -3.5l4 -2.5l4 1l0 22.5l-43 0l-7 5.5l-2 1l-2 0l-7 0l-13 -1l-2.5 -1l-1.5 -5l-1 -12l1 -9l1.5 -4l2.5 -3.5l5 -4l5 -6l10 -10l6 -3.5zM82.5 364l1 0l1 1l0 3l-1.5 2l-2.5 2l-1 6l-1.5 4.5l-2 2.5l-6 3.5l0 -13.5l6 -3.5l4 -2l1.5 -4.5l1 -1z"/><path fill="#fff818" fill-rule="evenodd" d="M132 360l3 0l6.5 3l5.5 4.5l3 3.5l4 7l5 13.5l1.5 5.5l-0.5 3.5l-1 2.5l-1 1l-16 -0.5l-6 1l-10 5l-9 -0.5l-6.5 -3l-2.5 -5l-1.5 -6l3 -11l1.5 -3l7 -9.5l9 -8l5 -3.5zM174.5 396l4.5 -0.5l0 9l-9 0l-2 -0.5l0 -2l1 -2l5.5 -4z"/><path fill="#ffd008" fill-rule="evenodd" d="M131.5 369l2.5 -0.5l8 5l6 6.5l1 3l0 3l-2.5 5l-4.5 4l-12 6l-3 1l-2 0l-5.5 -2l-2 -2l-2 -4l0 -6l2 -7l1.5 -3l7 -6l5.5 -3zM176.5 400l2.5 0l0 2l-5 0l1 -1.5l1.5 -0.5z"/><path fill="#ffa808" fill-rule="evenodd" d="M126 382l1 -1l2 0.5l2 2.5l0.5 2l-1 3l-3.5 3l-2 -1.5l-1 -2.5l0 -3l2 -3z"/><path class="c" d="M70 332l1 -1l2 0l98 0l1 -1l1 -3l0 -30M179 427.5l-43 0l-10 7.5l-56 0M176 297l0 31l1.5 5l1.5 2M70 349.5l0.5 -1.5l0.5 -13l0 -1l1 -1l76 0l11 1l11 0l2 0l1.5 -2l1 -4l0.5 -31M179 425l-43 0l-9 7l-2 0.5l-54 0l-0.5 -0.5l-0.5 -3M70 350l1 -1l0.5 -11l0.5 -1.5l1 -0.5l77 0l24 1.5l5 4.5M179 422.5l-43 0l-10 7.5l-54 0l-1 0l-0.5 -3l0 -30l-0.5 -1.5M70 350.5l1 -0.5l1 -1l0 -8l1 -1.5l1 0l75 0l22 1.5l2 1l3 5l3 2.5M179 420l-43 0l-10 7.5l-54 0l-0.5 -0.5l-0.5 -3l0 -28l-1 -1M70 350.5l2 -0.5l1 -6.5l1 -0.5l76 0l14 2.5l7 0l2 2l3 8.5l3 3.5M179 417.5l-43 0l-10 7.5l-53 0.5l-1 -0.5l-0.5 -3l0 -26l-0.5 -1l-1 -0.5M70 351l3 -1l1 -3.5l1 -0.5l59 0l17 0.5l6 2l2.5 2.5l2 6l1.5 12l1 3.5l1 1l1 -1.5l1 -3l0 -14l2 -4l1 -0.5l1 1.5l3.5 12l2.5 3.5l2 1.5M179 415l-43 0l-10 8l-53 0l-1 -1l0 -1l0 -25l-0.5 -1l-1.5 -0.5M70 351.5l6 -2l8 0l9 1l5 -1l5 1l6 0l17 -1l7 -1.5l17 1.5l3 1.5l2 3l7.5 23l1.5 3l1 0.5l1 -0.5l5 -5l2 -1.5l2 0l4 2M179 412.5l-43 0l-10 8l-52 0l-1 -0.5l-0.5 -1l0 -23l-0.5 -1l-2 -1M70 355l6 0l6 -1l2 0l2 2l3.5 5l3.5 9.5l1 -1l2 -10.5l1 -2l1 0l3 10l2 1l5 -1l2 -1l4 -4l8 -7l9 -3.5l4 -0.5l13 2l2.5 1l1.5 2.5l3.5 9.5l3.5 7l3 9l2 3.5l2 -0.5l4 -4l4 -2.5l2 0l3 1.5M179 410l-43 0l-10 8l-44 0l-2 -1l0 -11l-1 -4.5l-2 -2.5l-3 -1l-1 -3l-1 -1l-2 -0.5M70 375l6 -3.5l4 -2l1.5 -4.5l1 -1l0.5 0l1 0.5l0.5 1.5l-0.5 3l-3.5 3l-1 6l-1.5 5l-2 2l-6 3.5M179 407.5l-42 0l-2 0.5l-6 5l-3 1l-8 0l-14 -1l-1.5 -1l-1 -2l-1.5 -15l1.5 -11l2.5 -4.5l6 -5l5.5 -6.5l10.5 -10l7 -3.5l2 0l6 1.5l8 4l1.5 2l3.5 8l4 7l3 10l3 3.5l1 0l2 -0.5l4 -3.5l4 -2.5l4 1M132 360l3 0l6.5 3l5.5 4.5l3 3.5l4 7l5 13.5l1.5 5.5l-0.5 3.5l-1 2.5l-1 1l-16 -0.5l-6 1l-10 5l-9 -0.5l-6.5 -3l-2.5 -5l-1.5 -6l3 -11l1.5 -3l7 -9.5l9 -8l5 -3.5M179 404.5l-10 0l-1 -0.5l0 -1l1 -3l1 -1l5 -3.5l4 0M131.5 369l2.5 -0.5l8 5l6 6.5l1 3l0 3l-2.5 5l-4.5 4l-12 6l-3 1l-2 0l-5.5 -2l-2 -2l-2 -4l0 -6l2 -7l1.5 -3l7 -6l5.5 -3M179 402l-5 0l0.5 -1l1.5 -1l3 0M126 382l1 -1l2 0.5l2 2.5l0.5 2l-1 3l-3.5 3l-2 -1.5l-1 -2.5l0 -3l2 -3"/><path fill="#2c0a40" fill-rule="evenodd" d="M225 297l81 0l0 132l-2 2l0 1l-3 3l0 1l-1 1l-32 0l-6 -7l-37 0l0 -133z"/><path fill="#4c0c80" fill-rule="evenodd" d="M225 297l80 0l0 130l-1 2l-4 6l-32 0l-6 -7.5l-1 0l-36 0l0 -130.5z"/><path fill="#1018a8" fill-rule="evenodd" d="M225 297l79 0l0 35l-0.5 4l0 90l-0.5 2l-3 4.5l-32 0l-6 -7l-1 -0.5l-36 0l0 -128z"/><path fill="#1038f0" fill-rule="evenodd" d="M225.5 297l78 0l0 35l-1 4l-0.5 90l-2 4l-32 0l-6 -7l-1 0l-36 0l0.5 -126z"/><path fill="#1868f0" fill-rule="evenodd" d="M226 297l76.5 0l0 35l-1.5 4l0 89l-1 2.5l-32 0l-6 -7l-1 0l-36 0l0 -86l1 -1.5l0 -36z"/><path fill="#18a8e8" fill-rule="evenodd" d="M226.5 297l75.5 0l0 35l-2 3l0 1l-0.5 86l-0.5 3l-31 0l-6 -7l-1 0l-36 0l0 -83l1.5 -1l0 -1l0 -36z"/><path fill="#18d0c8" fill-rule="evenodd" d="M227 297l74 0l0 35l-2.5 3l0 1l0 84l-0.5 2.5l-30 0l-6 -7l-1 0l-36 0l0 -80l1.5 -0.5l1 -2l-0.5 -36zM235 320.5l-2 1.5l-0.5 2l-0.5 7l1 4l2 1.5l1.5 -0.5l1.5 -1l0.5 -2l0.5 -2l-0.5 -7l-1.5 -2.5l-2 -1z"/><path fill="#20e8a0" fill-rule="evenodd" d="M242 298l1.5 -1l56.5 0l0 35l-0.5 1l-2 1l-0.5 3l-1 62l0.5 19l-0.5 1.5l-28 0.5l-6 -6.5l-1 -0.5l-36 0l0 -71l5 0l5 1.5l6 5l3 1l3 0.5l2 -0.5l1 -0.5l1 -2l-0.5 -5l-3.5 -6l-1 -11l-2 -8l-2 -3.5l-3 -2.5l-2 -1l-2 0l-5 4.5l-1 0.5l-1 -0.5l-0.5 -8.5l0.5 -7l1 -0.5l11 0l2 -0.5z"/><path fill="#44f474" fill-rule="evenodd" d="M248 298l3 -0.5l33 0l3 -0.5l12.5 0l-0.5 35l-4 2l-9 -0.5l-1.5 2.5l-1 5l-0.5 24l-3 9l-1 9l0 5l1 4l2.5 4l1.5 5l2 3.5l1 1.5l4 2.5l1 3.5l0 5l-2 0.5l-22 0l-6 -6.5l-1 0l-36 0l0 -64l7 0l3 0.5l7 7.5l7 3.5l6 0l4 2l1 -0.5l0.5 -1l-0.5 -3l-2.5 -5l-3 -10l-3.5 -8l-1.5 -9l-1.5 -7l-7 -13l-1 0l-6 2l-5 3.5l-1 -1.5l0 -4.5l1 -2l7 1l3 0.5l1 1l1 0l4 -4.5l3 -1.5z"/><path fill="#8cfa12" fill-rule="evenodd" d="M290 298l3 -1l4 0l1 0.5l0.5 1.5l0 31l-0.5 1l-1 0.5l-5 -0.5l-2 -0.5l-5 -3l-4 -1.5l-1 1l-1.5 6l0.5 21l0 8l-2 10.5l-1 2.5l-1 1l-5 1.5l-4 2.5l-4 1.5l-2 -1l-4 -7l-1 0l-2 0.5l-2.5 3l-2 6l-0.5 24l-0.5 1l-22.5 0.5l0 -58.5l5 0l4 1.5l10.5 11.5l4.5 3l11 3l2 -1l1 -1l2 -4l0 -4l-2 -8.5l-4 -5.5l-3 -9l-3 -7l-2 -12l-4 -11l0 -2l1 -2l2 -1.5l5 -0.5l25 0.5l6 -0.5l4 -2zM272 405l6 -0.5l2 1l1 5.5l0 3.5l-7 0.5l-4 -0.5l0.5 -7.5l0.5 -1.5l1 -0.5z"/><path fill="#fff818" fill-rule="evenodd" d="M292.5 299l4.5 0l0.5 2l0 24l0 3l-0.5 0.5l-1 0.5l-4 -0.5l-2 -1l-2 -3.5l-1.5 -5l0 -11l0.5 -5l2.5 -3l3 -1zM259.5 304l2.5 0.5l1 0.5l1 2l4 14l2 5l1.5 6l4.5 14l1 10l-1 4.5l-2 1.5l-3 -0.5l-3 -3.5l-3.5 -14l-1.5 -2l-2 -1.5l-2.5 -7.5l-3 -6l-1.5 -12l0 -7l1 -2l1 -1l3.5 -1zM225 354l4 0.5l5 4.5l1.5 2l1.5 6l-1 10l-3 10l0.5 15l-0.5 3l-1 1l-7 0l0 -52z"/><path fill="#ffd008" fill-rule="evenodd" d="M291.5 301l4.5 -0.5l1 1.5l-0.5 19l-0.5 4l-1 0l-2 0l-1 -1l-2.5 -6l-0.5 -7l0.5 -7l0.5 -2l1.5 -1zM260 313l0.5 1l0.5 2l-1 3.5l-1 -1.5l0 -2l0 -2l1 -1zM225 394l0 -0.5l2 0l1 0.5l1 1.5l1 5.5l-0.5 2l-0.5 0.5l-4 0l0 -9.5z"/><path fill="#ffa808" fill-rule="evenodd" d="M294 303l1 0l1 2l0 10l-1 3l-2 -1l-1 -2.5l-0.5 -3.5l0.5 -6l2 -2z"/><path class="c" d="M305 297l0 130l-1 2l-4 6l-31 0l-1 0l-6 -7.5l-37 0M304 297l0 35l-0.5 4l0 90l-0.5 2l-3 4.5l-1 0l-30 0l-1 0l-6 -7l-37 -0.5M303.5 297l0 35l-1 4l-0.5 91l-2 3l-1 0l-30 0l-1 0l-6 -7l-37 0M225 334l0.5 -2l0 -35M302.5 297l0 35l-1.5 4l0 90l-1 1.5l-1 0l-30 0l-1 0l-6 -7l-37 0M225 334.5l1 -1.5l0 -36M302 297l0 35l-2 3l0 1l-0.5 88l-0.5 1l-1 0l-29 0l-1 0l-6 -7l-37 0M225 335l1.5 -1l0 -1l0 -36M301 297l0 35l-2.5 3l0 1l0 84l-0.5 2.5l-30 0l-6 -7l-1 0l-36 0M235 320.5l-2 1.5l-0.5 2l-0.5 7l1 4l2 1.5l1.5 -0.5l1.5 -1l0.5 -2l0.5 -2l-0.5 -7l-1.5 -2.5l-2 -1M225 335.5l1.5 -0.5l1 -2l-0.5 -36M300 297l0 35l-0.5 1l-2 1l-0.5 3l-0.5 82l-0.5 0.5l-2 0.5l-25 0l-1 0l-6 -6.5l-37 -0.5M225 342l5 0l5 1.5l5.5 4.5l2.5 1.5l5 0.5l2 -1l0.5 -1l0.5 -2l-0.5 -3l-3.5 -7l-1 -11l-2 -8l-2 -3.5l-3 -2.5l-2 -1l-2 0l-5 4.5l-1 0.5l-1 -0.5l-0.5 -8.5l0.5 -7l1 -0.5l12 0l2.5 -1.5M299.5 297l-0.5 35l-4 2l-9 -0.5l-1.5 2.5l-1 5l-0.5 24l-3 9l-1 9l0 5l1 4l2.5 4l1.5 5l2 3.5l1 1.5l4 2.5l1 3.5l0 5l-2 0.5l-22 0l-6 -6.5l-1 0l-36 0M225 347l7 0l3 0.5l7 7.5l7 3.5l6 0l4 2l1 -0.5l0.5 -1l-0.5 -3l-2.5 -5l-3 -10l-3 -7l-2.5 -13.5l-2.5 -6.5l-5.5 -10l-1 0l-6 2l-5 3.5l-1 -1.5l0 -2l0 -2.5l1 -2l7 1l3 0.5l1 1l1 0l5 -5l3 -1.5l35 0l3 -0.5M225 350l5 0l4 1.5l10 11l4 3l10 3l3 0l2 -1.5l2 -4l0 -3l-1 -6l-1 -4l-4.5 -6l-2 -7l-3.5 -7l-2 -13l-4 -11l0 -2l1 -2l2 -1.5l5 -0.5l25 0.5l6 -0.5l6 -2.5l5 -0.5l1 0.5l0.5 1.5l0 11l0 18l-0.5 3l-2 0.5l-5 -0.5l-5 -3l-5 -2l-1 0.5l-0.5 1.5l-1 6l0.5 20l0 8l-2 10.5l-1 2.5l-1 1l-5 1.5l-4 2.5l-4 1.5l-2 -1l-4 -7l-1 0l-2 0.5l-2.5 3l-2 6l-0.5 24l-0.5 1l-22.5 0.5M272 405l6 -0.5l2 1l1 5.5l0 3.5l-7 0.5l-4 -0.5l0.5 -7.5l0.5 -1.5l1 -0.5M292.5 299l4.5 0l0.5 2l0 24l0 3l-0.5 0.5l-1 0.5l-4 -0.5l-2 -1l-2 -3.5l-1.5 -5l0 -11l0.5 -5l2.5 -3l3 -1M259.5 304l2.5 0.5l1 0.5l1 2l4 14l2 5l1.5 6l4.5 14l1 10l-1 4.5l-2 1.5l-3 -0.5l-3 -3.5l-3.5 -14l-1.5 -2l-2 -1.5l-2.5 -7.5l-3 -6l-1.5 -12l0 -7l1 -2l1 -1l3.5 -1M225 354l4 0.5l5 4.5l2.5 5l0.5 5l-1 9l-3 9l0 18l-1 1l-7 0M291.5 301l4.5 -0.5l1 1.5l-0.5 19l-0.5 4l-1 0l-2 0l-1 -1l-2.5 -6l-0.5 -7l0.5 -7l0.5 -2l1.5 -1M260 313l0.5 1l0.5 2l-1 3.5l-1 -1.5l0 -2l0 -2l1 -1M225 393.5l3 0.5l1 1.5l1 5.5l-0.5 2l-0.5 0.5l-4 0M294 303l1 0l1 2l0 10l-1 3l-2 -1l-1 -2.5l-0.5 -3.5l0.5 -6l2 -2"/><path fill="#2c0a40" fill-rule="evenodd" d="M651 297l8 0l0 132l-43 0l-6 6l-1 0l-2 2l-57 0l0 -109l100 0l1 -1l0 -30z"/><path fill="#4c0c80" fill-rule="evenodd" d="M652 297l7 0l0 129.5l-43 0.5l-9 8l-1 0l-56 0l0 -103.5l25 -1l56 0l19 0.5l1.5 -1l0.5 -2l0 -31z"/><path fill="#1018a8" fill-rule="evenodd" d="M653 297l6 0l0 127.5l-43 0l-9 8l-1 0l-55 0l-1 -4.5l0 -71l0 -18l1 -5l1 -0.5l23 -1.5l56 0l18 2l2 -0.5l1.5 -1.5l0.5 -3l0 -32z"/><path fill="#1038f0" fill-rule="evenodd" d="M654 297l5 0l0 125l-43 0l-9 8l-1 0l-54 0l-1 -0.5l-0.5 -83.5l0.5 -7.5l0.5 -1.5l22.5 -3l57 0l11 1l3 1l4 2.5l3 0l1.5 -1.5l0.5 -3l0 -37z"/><path fill="#1868f0" fill-rule="evenodd" d="M655 297l4 0l0 122.5l-43 0l-9 8l-1 0l-54 0l-1 -5.5l0 -65l0.5 -12l0.5 -5l1 -0.5l4 0l9 -3l7 -0.5l59 0l7 0.5l4 1.5l2.5 2l3.5 6.5l2 1l3 -0.5l1.5 -2l0.5 -5l-1 -12l0 -31z"/><path fill="#18a8e8" fill-rule="evenodd" d="M656 297l3 0l0 44.5l-1.5 -2.5l-1.5 -11l0 -31zM571.5 338l59.5 0l8 1l4 2l2 5l-1 10l0 2l1 2.5l3 2.5l2 0.5l4.5 -0.5l4.5 -2l0 56l-43 0l-9 8l-1 0l-53 0l-1 -0.5l-0.5 -67.5l0.5 -13.5l1 -1l4 -0.5l8 -3l6.5 -1z"/><path fill="#18d0c8" fill-rule="evenodd" d="M657 297l2 0l0 38l-1 -2l-1 -5l0 -31zM573.5 340l57.5 0l7 0.5l2.5 1.5l1.5 2.5l0.5 2.5l-1 13l-1.5 9l1 3.5l2 1.5l1 0l4 -2l3 -0.5l4 -3l4 0l0 46l-43 0.5l-9 7.5l-1 0l-53 0l-0.5 -1.5l-0.5 -3l0.5 -71l0.5 -2l4 -0.5l8 -3.5l8.5 -1z"/><path fill="#20e8a0" fill-rule="evenodd" d="M658 297l1 0l0 33l-1 -3l0 -30zM572.5 342l58.5 0l6 0.5l2 1l2 3.5l0 6l-1 5l-2.5 8l-2 11l0.5 1l2 2l2 0.5l3 0.5l5 -3l3 -0.5l4 -2l4 -0.5l0 37.5l-43 0l-9 7.5l-1 0l-53 -0.5l-0.5 -61.5l0.5 -10l1 -1l3 -0.5l4 -2l5 -2l6.5 -0.5zM592 382.5l-2.5 2.5l-1.5 3l1 3l3 3l1 0l1 -1.5l1.5 -4.5l-1.5 -4.5l-1 -1l-1 0zM560 376.5l-1 1.5l-1 4l-0.5 22l1.5 3l2 0.5l2 -1.5l1 -2l0 -22l-1 -4l-2 -2l-1 0.5z"/><path fill="#44f474" fill-rule="evenodd" d="M569 344l61 -0.5l5 0.5l3 1.5l1 1.5l1 3l-1 6l-3 7l-3 9l-1 1.5l-4 2.5l-2 2l-0.5 9l0.5 1l2 1.5l14 4.5l1 -0.5l2.5 -5.5l1.5 -2l4 -1.5l4 -2.5l4 -0.5l0 28.5l-43 0l-9 7.5l-1 0l-39 0l-4.5 -0.5l0 -1l1.5 -4l4.5 -6l1.5 -3l0 -22l-1 -2l-4.5 -4l-2.5 -1.5l-2 -0.5l-3 1l-1 1l-1.5 3l-0.5 3.5l-1 -11.5l0 -18l1 -3l3 -0.5l5 -3l7 -1.5zM592 373l-10 4.5l-3.5 3.5l-0.5 2l-0.5 15l0.5 3l3.5 3l2.5 1l8 1l1 0l2 -3.5l6 -15.5l-1 -7l-2 -4l-3.5 -3l-2.5 0zM554 413l0 -0.5l1 0l2 1.5l1.5 2l0 1l-4.5 0.5l0 -4.5z"/><path fill="#8cfa12" fill-rule="evenodd" d="M566.5 346l8.5 -0.5l56 0l3 0.5l3 1.5l1 1.5l0.5 3l-0.5 3l-3 6l-3 7.5l-1.5 1.5l-20.5 2l-6 -0.5l-8 -3l-3 -0.5l-9 2.5l-8 3.5l-3 1l-5.5 -2l-6.5 -3l-4 0l-2 0.5l-1 -2l0 -15.5l6 -5l6.5 -2zM655.5 387l3.5 -0.5l0 21l-10 -1l-1.5 -1.5l-1.5 -5l2 -8l1 -2l6.5 -3zM603 395l1 -0.5l1 0l5 3l2 0l19 0.5l2 1l1 2l-0.5 1l-1.5 3l-2.5 1l-4.5 1l-9 0.5l-4 3l-5 4.5l-9 0l-1.5 -1l0 -4l6.5 -15zM572.5 409l1.5 -1l2.5 2l0 2l-1.5 2l-2 0.5l-1 -1l-0.5 -2.5l1 -2z"/><path fill="#fff818" fill-rule="evenodd" d="M574 347l57 0l2 0.5l2.5 1.5l1 1l0.5 2l-5 10.5l-2 1.5l-20 3l-7 -1l-10 -3l-10 4l-10 2.5l-6 -1.5l-7 -3l-2 -4l-1 -5l2.5 -5l2 -2l5.5 -1.5l7 -0.5zM658.5 392l0.5 11l-2 -1.5l-1 -3.5l0.5 -3l2 -3zM603.5 407l0.5 0l1 3l-1 2l-1 0l-1 -2l1.5 -3z"/><path fill="#ffd008" fill-rule="evenodd" d="M568 349l14 -0.5l48 0.5l3 0.5l1 1.5l0.5 1l-2.5 5.5l-1 1l-2 0.5l-19 3l-6 -0.5l-11 -2.5l-20 4.5l-8.5 -1.5l-2.5 -1l-1 -2l-1 -4l1 -3l3 -2l4 -1z"/><path fill="#ffa808" fill-rule="evenodd" d="M580.5 350l14.5 1l17 -1l18 2l0 1l-7.5 3l-11.5 2l-18 -2l-5 0.5l-5 1.5l-10 1l-6.5 -2l-1 -2l0.5 -2.5l1 -0.5l3.5 -1l10 -1z"/><path class="c" d="M550 331.5l25 -1l56 0l19 0.5l1.5 -1l0.5 -2l0 -31M659 426.5l-43 0.5l-9 8l-1 0l-56 0M659 424.5l-43 0l-9 8l-1 0l-54 0l-1.5 -0.5l-0.5 -3l0 -85l0 -6l1 -4l1 -0.5l23 -1.5l56 0l18 2l2 -0.5l1.5 -1.5l0.5 -3l0 -32M659 422l-43 0l-9 8l-1 0l-54 0l-1 -0.5l0 -1.5l-0.5 -83l0.5 -6.5l0.5 -1.5l22.5 -3l57 0l11 1l3 1l4 2.5l3 0l1.5 -1.5l0.5 -3l0 -37M659 419.5l-43 0l-9 8l-1 0l-53 0l-1 -0.5l-1 -4l0 -74l1 -9l1 -0.5l4 0l9 -3l7 -0.5l59 0l7 0.5l4 1.5l2.5 2l3.5 6.5l2 1l3 -0.5l1.5 -2l0.5 -5l-1 -12l0 -31M659 341.5l-1.5 -2.5l-1.5 -11l0 -31M659 417l-43 0l-9 8l-1 0l-53 0l-1 -0.5l-0.5 -67.5l0.5 -12l0.5 -2l0.5 -0.5l4 -0.5l9 -3.5l9 -0.5l56 0l8 1l4 2l2 5l-1 5l0 7l1 2.5l2 2l2 1l5 -0.5l5 -2M659 335l-1 -2l-1 -5l0 -31M659 414.5l-43 0.5l-9 7.5l-1 0l-53 0l-0.5 -1.5l-0.5 -3l0 -61l0 -8l1 -4l4 -0.5l10 -4l9 -0.5l54 0l7 0.5l3.5 1.5l2 4l-1 13l-1.5 10l0.5 2l1 2l1.5 1l1 0l4 -2l3 -0.5l4 -3l4 0M659 330l-1 -3l0 -30M560 376.5l-1 1.5l-1 4l-0.5 22l1.5 3l2 0.5l2 -1.5l1 -2l0 -22l-1 -4l-2 -2l-1 0.5M592 382.5l-2.5 2.5l-1.5 3l1 3l3 3l1 0l1 -1.5l1.5 -4.5l-1.5 -4.5l-1 -1l-1 0M659 412.5l-43 0l-9 7.5l-1 0l-53 -0.5l-0.5 -62.5l0.5 -9.5l14 -5l8 -0.5l52 0l10 0.5l2 1l1 1.5l1 2l0 4l-1 6l-3 10l-1.5 8l0.5 3l3 2.5l4 0.5l5 -3l3 -0.5l4 -2l4 -0.5M592 373l-10 4.5l-3.5 3.5l-0.5 2l-0.5 15l0.5 3l3.5 3l2.5 1l8 1l1 0l2 -3.5l6 -15.5l-1 -7l-2 -4l-3.5 -3l-2.5 0M659 410l-43 0l-9 7.5l-1 0l-39 0l-4.5 -0.5l0 -1l1.5 -4l4.5 -6l1.5 -3l0 -22l-1 -2l-4.5 -4l-2.5 -1.5l-2 -0.5l-3 1l-1 1l-1.5 3l-0.5 3.5l-1 -10.5l0 -14l0 -6l1 -2l3 -0.5l4 -2.5l6 -2l8 -0.5l54 0l7 1l2 1l1 1.5l1 4l-0.5 4l-3.5 8l-3 9l-1 1.5l-4 2.5l-2 2l-0.5 8l0.5 2l3 2l13 4l1 -0.5l2.5 -5.5l1.5 -2l4 -1.5l4 -2.5l4 -0.5M554 413l0 -0.5l1 0l2 1.5l1.5 2l0 1l-4.5 0.5l0 -4.5M566.5 346l8.5 -0.5l56 0l3 0.5l3 1.5l1 1.5l0.5 3l-0.5 3l-3 6l-3 7.5l-1.5 1.5l-20.5 2l-6 -0.5l-8 -3l-3 -0.5l-9 2.5l-8 3.5l-3 1l-5.5 -2l-6.5 -3l-4 0l-2 0.5l-1 -2l0 -15.5l6 -5l6.5 -2M603 395l1 -0.5l1 0l5 3l2 0l19 0.5l2 1l1 2l-0.5 1l-1.5 3l-2.5 1l-4.5 1l-9 0.5l-4 3l-5 4.5l-9 0l-1.5 -1l0 -4l6.5 -15M659 407.5l-9 -1l-2 -0.5l-1 -2l-1 -4l1 -4.5l2 -5.5l6.5 -3l3.5 -0.5M572.5 409l1.5 -1l2.5 2l0 2l-1.5 2l-2 0.5l-1 -1l-0.5 -2.5l1 -2M574 347l57 0l2 0.5l2.5 1.5l1 1l0.5 2l-5 10.5l-2 1.5l-20 3l-7 -1l-10 -3l-10 4l-10 2.5l-6 -1.5l-7 -3l-2 -4l-1 -5l2.5 -5l2 -2l5.5 -1.5l7 -0.5M659 403l-2 -1.5l-1 -3.5l0.5 -3l2.5 -3M603.5 407l0.5 0l1 3l-1 2l-1 0l-1 -2l1.5 -3M568 349l14 -0.5l48 0.5l3 0.5l1 1.5l0.5 1l-2.5 5.5l-1 1l-2 0.5l-19 3l-6 -0.5l-11 -2.5l-20 4.5l-8.5 -1.5l-2.5 -1l-1 -2l-1 -4l1 -3l3 -2l4 -1M580.5 350l14.5 1l17 -1l18 2l0 1l-7.5 3l-11.5 2l-18 -2l-5 0.5l-5 1.5l-10 1l-6.5 -2l-1 -2l0.5 -2.5l1 -0.5l3.5 -1l10 -1"/><path fill="#2c0a40" fill-rule="evenodd" d="M705 297l82 0l0 132l-2 2l0 1l-3 3l0 1l-1 1l-33 0l-6 -7l-37 0l0 -133z"/><path fill="#4c0c80" fill-rule="evenodd" d="M705 297l81.5 0l0 129l0 1l-5.5 8l-33 0l-6 -7.5l-1 0l-36 0l0 -130.5z"/><path fill="#1018a8" fill-rule="evenodd" d="M705.5 297l79.5 0l0 129l-4 6.5l-33 0l-6 -7l-1 -0.5l-36 0l0.5 -128z"/><path fill="#1038f0" fill-rule="evenodd" d="M706.5 297l17 0l2.5 6l4.5 3l2.5 2.5l2 0.5l6 -1.5l5 -10.5l38 0l0 128l-0.5 1l-2.5 4l-32 0l-1 0l-6 -7l-36 -0.5l-0.5 -4.5l-0.5 -45l1 -5l0 -61l0.5 -10z"/><path fill="#1868f0" fill-rule="evenodd" d="M714 298l0.5 -1l4 0l2 6l2 3l9 7l2.5 1l6 -1l2 -1l3 -3l3 -5l6.5 -7l27.5 0l0.5 127l-0.5 2l-1 1.5l-32 0l-1 0l-6 -7l-35 0l-1 -0.5l-0.5 -47l1 -5l0.5 -63l1 -4l3 -1l3 -2z"/><path fill="#18a8e8" fill-rule="evenodd" d="M758 301l4 0.5l6 1.5l12 0l0.5 2l0.5 119l-1 1l-31 0l-1 0l-6 -7l-35 0l-0.5 -2l-0.5 -4l0 -40l1 -3l0 -51l1 -10l2 -1l7 1l15 9l3 0.5l5 -1l3 -1.5l3 -3l6.5 -8l2.5 -2l3 -1z"/><path fill="#18d0c8" fill-rule="evenodd" d="M756.5 304l2.5 -0.5l2 0.5l9 3l4 2.5l4 0.5l1 0.5l0.5 1.5l0 106l0 4l-1.5 0.5l-29 0l-1 0l-6 -7l-35 0l-0.5 -8.5l0 -35l1 -3l0 -42l0.5 -10l0.5 -2l0.5 -1l1 -0.5l8 1l8 3l7 4l2 0l5 -1l3 -1.5l4 -3.5l5 -5.5l3 -5l1.5 -1z"/><path fill="#20e8a0" fill-rule="evenodd" d="M758 308l1 -1l7 2.5l6 5.5l2 1l3 0l1 1l0.5 97l-0.5 5.5l-30 0.5l-6 -6.5l-1 -0.5l-33 0l-1 -0.5l0 -4.5l0 -36l1.5 -3l0 -40l0.5 -8.5l1 -1l8 0l8 2l7 4l7 -1l4 -1.5l10 -8.5l4 -6.5z"/><path fill="#44f474" fill-rule="evenodd" d="M763.5 320l3.5 0l5 2l4 0.5l0.5 1.5l0.5 7l0 39l-1 10l-8 1l-2 1l-11 12l-6 5.5l-2.5 4.5l-0.5 9l-1 0.5l-3 -2.5l-1 0l-33 -0.5l-1 -5.5l1 -19.5l3 -3l1 -4.5l-0.5 -3l-2 -4l-0.5 -5l0 -37l1 -4l7 -1l6 1l3 0.5l6 4l2 0.5l10 -3l7 -4l12.5 -3zM773 396l3 0l1 1l-0.5 20l-2.5 0.5l-11.5 -0.5l-0.5 -8l1.5 -4l5.5 -7l2 -1.5l2 -0.5z"/><path fill="#8cfa12" fill-rule="evenodd" d="M713.5 329l4.5 -1l7 1.5l7 4.5l2 0.5l16.5 -4.5l6.5 -0.5l9 1l8 4l1 2.5l0.5 13l-0.5 13l-1 3.5l-12 8l-8 7l-4 5.5l-7 4.5l-3 0.5l-8 -1l-1 -1l-1 -4l-1 -2l-6 -7l-5 -3.5l-7.5 -11.5l-1 -16l0.5 -14l1 -2l2.5 -1zM709 392l15 1l3 1l1 1l1 5l-0.5 3l-1.5 2.5l-2 1.5l-3.5 1l-7.5 0.5l-6 -0.5l0 -13l1 -3zM773.5 400l1.5 0.5l0.5 4.5l-0.5 8l-1 1l-2 -1.5l-1.5 -4.5l0.5 -3l2.5 -5z"/><path fill="#fff818" fill-rule="evenodd" d="M715.5 334l3.5 -1l6 1.5l1.5 1.5l3 9l-0.5 6l-2.5 6l-2 2l-4.5 1l-3 -0.5l-2.5 -2.5l-2 -4l-1 -6l-0.5 -3l1.5 -6l1 -2l2 -2zM742 338l1 0l7 4l7 -1l2 1l7 6l1 1.5l1 4.5l-1 3.5l-1 1.5l-7 2.5l-8 4l-2 -0.5l-8.5 -8l-3 -7l-0.5 -2l1 -3l3 -6l1 -1zM709 402l0 -0.5l1 0l0.5 0.5l1 2l-0.5 1.5l-2 0.5l0 -4z"/><path fill="#ffd008" fill-rule="evenodd" d="M718 340l1.5 1l2 4l-1.5 3.5l-2 2l-1 -0.5l-1.5 -5l1 -3l1.5 -2z"/><path class="c" d="M786.5 297l0 130l-5.5 8l-1 0l-32 0l-6 -7.5l-1 0l-36 0M785 297l0 128l0 2l-4 5.5l-1 0l-31 0l-1 0l-6 -7l-37 -0.5M705 370.5l0.5 -2.5l0 -71M723.5 297l2.5 6l4.5 3l2.5 2.5l2 0.5l6 -1.5l5 -10.5M784 297l0 128l-0.5 1l-2.5 4l-2 0l-31 0l-6 -7l-1 0l-35 -0.5l-0.5 -4.5l-0.5 -45l1 -5l0 -61l0.5 -10M718.5 297l2 6l2 3l9 7l2.5 1l6 -1l2 -1l3 -3l3 -5l6.5 -7M782 297l0.5 127l-0.5 2l-1 1.5l-2 0l-30 0l-1 0l-6 -7l-35 0l-1 -0.5l-0.5 -47l1 -5l0.5 -63l1 -4l4 -1.5l2.5 -2.5M758 301l4 0.5l6 1.5l12 0l0.5 2l0.5 119l-1 1l-31 0l-1 0l-6 -7l-35 0l-0.5 -2l-0.5 -4l0 -40l1 -3l0 -51l1 -10l2 -1l7 1l15 9l3 0.5l5 -1l3 -1.5l3 -3l6.5 -8l2.5 -2l3 -1M756.5 304l2.5 -0.5l2 0.5l9 3l4 2.5l4 0.5l1 0.5l0.5 1.5l0 106l0 4l-1.5 0.5l-29 0l-1 0l-6 -7l-35 0l-0.5 -8.5l0 -35l1 -3l0 -42l0.5 -10l0.5 -2l0.5 -1l1 -0.5l8 1l8 3l7 4l2 0l5 -1l3 -1.5l4 -3.5l5 -5.5l3 -5l1.5 -1M758 308l1 -1l7 2.5l6 5.5l2 1l3 0l1 1l0.5 97l-0.5 5.5l-30 0.5l-6 -6.5l-1 -0.5l-33 0l-1 -0.5l0 -4.5l0 -36l1.5 -3l0 -40l0.5 -8.5l1 -1l8 0l8 2l7 4l7 -1l4 -1.5l10 -8.5l4 -6.5M763.5 320l3.5 0l5 2l4 0.5l0.5 1.5l0.5 7l0 39l-1 10l-8 1l-2 1l-11 12l-6 5.5l-2.5 4.5l-0.5 9l-1 0.5l-3 -2.5l-1 0l-33 -0.5l-1 -5.5l1 -19.5l3 -3l1 -4.5l-0.5 -3l-2 -4l-0.5 -5l0 -37l1 -4l7 -1l6 1l3 0.5l6 4l2 0.5l10 -3l7 -4l12.5 -3M773 396l3 0l1 1l-0.5 20l-2.5 0.5l-11.5 -0.5l-0.5 -8l1.5 -4l5.5 -7l2 -1.5l2 -0.5M713.5 329l4.5 -1l7 1.5l7 4.5l2 0.5l16.5 -4.5l6.5 -0.5l9 1l8 4l1 2.5l0.5 13l-0.5 13l-1 3.5l-12 8l-8 7l-4 5.5l-7 4.5l-3 0.5l-8 -1l-1 -1l-1 -4l-1 -2l-6 -7l-5 -3.5l-7.5 -11.5l-1 -16l0.5 -14l1 -2l2.5 -1M709 392l15 1l3 1l1 1l1 5l-0.5 3l-1.5 2.5l-2 1.5l-3.5 1l-7.5 0.5l-6 -0.5l0 -13l1 -3M773.5 400l1.5 0.5l0.5 4.5l-0.5 8l-1 1l-2 -1.5l-1.5 -4.5l0.5 -3l2.5 -5M715.5 334l3.5 -1l6 1.5l1.5 1.5l3 9l-0.5 6l-2.5 6l-2 2l-4.5 1l-3 -0.5l-2.5 -2.5l-2 -4l-1 -6l-0.5 -3l1.5 -6l1 -2l2 -2M742 338l1 0l7 4l7 -1l2 1l7 6l1 1.5l1 4.5l-1 3.5l-1 1.5l-7 2.5l-8 4l-2 -0.5l-8.5 -8l-3 -7l-0.5 -2l1 -3l3 -6l1 -1M709 402l0 -0.5l1 0l0.5 0.5l1 2l-0.5 1.5l-2 0.5l0 -4M718 340l1.5 1l2 4l-1.5 3.5l-2 2l-1 -0.5l-1.5 -5l1 -3l1.5 -2"/><path fill="#2c0a40" fill-rule="evenodd" d="M300 62l1 -1l8 0l1 1l0 2l1 1l0 95l-1 1l0 4l-1 1l-8 0l-1 -1l0 -2l-1 -1l0 -98l1 -1l0 -1z"/><path fill="#4c0c80" fill-rule="evenodd" d="M302 62l6.5 0l1 2l0.5 3l0 90l-1 6l-2 1l-2 -0.5l-2 0.5l-2 -1l-1 -5l0 -91l0 -3l2 -2z"/><path fill="#1018a8" fill-rule="evenodd" d="M303 65l1 1l0.5 3l0 87l-0.5 2l-1 1.5l-1 -1.5l0 -2l0 -88l0 -2l1 -1zM306.5 65l0.5 -0.5l1 1.5l0.5 2l0 88l-0.5 2.5l-1 1.5l-1.5 -2l0 -2l0 -88l0.5 -2l0.5 -1z"/><path class="c" d="M302 62l6.5 0l1 2l0.5 3l0 90l-1 6l-2 1l-2 -0.5l-2 0.5l-2 -1l-1 -5l0 -91l0 -3l2 -2M303 65l1 1l0.5 3l0 87l-0.5 2l-1 1.5l-1 -1.5l0 -2l0 -88l0 -2l1 -1M306.5 65l0.5 -0.5l1 1.5l0.5 2l0 88l-0.5 2.5l-1 1.5l-1.5 -2l0 -2l0 -88l0.5 -2l0.5 -1"/><path fill="#2c0a40" fill-rule="evenodd" d="M779 60l1 -1l9 0l1 1l1 0l0 105l-1 1l-11 0l0 -2l-2 -3l0 -98l2 -3z"/><path fill="#4c0c80" fill-rule="evenodd" d="M779.5 60l1.5 -0.5l8 0l1 1.5l0.5 5l0.5 91l-1.5 9l-9.5 0l-1.5 -8l0 -91l1 -7z"/><path fill="#1018a8" fill-rule="evenodd" d="M781 60l7 0l1.5 2l0.5 5l0 91l-1.5 6l-0.5 1l-2 -0.5l-0.5 1.5l-2 0l-0.5 -1.5l-2 0.5l-1 -3l-0.5 -4l0 -91l0.5 -5l1 -2z"/><path fill="#1038f0" fill-rule="evenodd" d="M783.5 61l1.5 -0.5l1 1.5l2 -1l1 2.5l0.5 3.5l0 91l-1.5 5.5l-2 -1l-1 1.5l-1 0l-1 -1.5l-2 1l-1 -6.5l0 -90l1 -6l2 1l0.5 -1z"/><path fill="#1868f0" fill-rule="evenodd" d="M784 62l1 0l1 2l2 -1l1 6l0 89l-1 3.5l-2 -1l-1 2l-1 0l-1 -2l-1 1l-1 0.5l-1 -7l0 -88l1 -4.5l1 0.5l1 1l1 -2z"/><path fill="#18a8e8" fill-rule="evenodd" d="M784 64l1 0l1 4l0 89l-1 3.5l-1 0l-1 -4.5l0 -88l1 -4zM781 65l1 0l0.5 1l0.5 3l0 87l-0.5 3l-1.5 0.5l0 -94.5zM787 66l1 -1l0.5 3l-0.5 91.5l-1.5 -1.5l0 -2l0 -88l0.5 -2z"/><path fill="#18d0c8" fill-rule="evenodd" d="M784 66l1 0l0 3l0 87l0 2.5l-1 0l0 -92.5z"/><path class="c" d="M780 166l-1.5 -9l0 -90l1 -7l1.5 -0.5l3 -0.5l4 0.5l1.5 0.5l1.5 7l0 90l-1.5 9M783.5 166l-0.5 -1.5l-2 0.5l-1 -3l-0.5 -4l0 -90l0.5 -7l1 -1l2 0.5l1 -0.5l2 0.5l2 -0.5l1 1l1 6l0 91l-1.5 6l-0.5 1l-2 -0.5l-0.5 1.5M783.5 61l1.5 -0.5l1 1.5l2 -1l1 2.5l0.5 3.5l0 91l-1.5 5.5l-2 -1l-1 1.5l-1 0l-1 -1.5l-2 1l-1 -6.5l0 -90l1 -6l2 1l0.5 -1M784 62l1 0l1 2l2 -1l1 6l0 89l-1 3.5l-2 -1l-1 2l-1 0l-1 -2l-1 1l-1 0.5l-1 -7l0 -88l1 -4.5l1 0.5l1 1l1 -2M784 64l1 0l1 4l0 89l-1 3.5l-1 0l-1 -4.5l0 -88l1 -4M781 65l1 0l0.5 1l0.5 3l0 87l-0.5 3l-1.5 0.5l0 -94.5M787 66l1 -1l0.5 3l-0.5 91.5l-1.5 -1.5l0 -2l0 -88l0.5 -2M784 66l1 0l0 3l0 87l0 2.5l-1 0l0 -92.5"/><path fill="#2c0a40" fill-rule="evenodd" d="M308 330l17 0l1 1l0 12l1 1l0 74l-1 1l0 13l-2 3l-15 0l-2 -3l0 -100l1 -1l0 -1z"/><path fill="#4c0c80" fill-rule="evenodd" d="M309.5 331l4.5 -0.5l2 0.5l5 -0.5l2 0.5l2 2l0.5 4l0.5 9l0 75l-0.5 7l-1 3l-1.5 2l-2 0.5l-5 -0.5l-3 0.5l-3 -0.5l-1.5 -2l-1 -3l-0.5 -12l0 -71l1 -11l1.5 -3z"/><path fill="#1018a8" fill-rule="evenodd" d="M311.5 333l3.5 0l1 1.5l1 0l1 -1.5l1 -0.5l2 0.5l1 1l2 4l1 7l0 72l-1 7l-1 4l-2 2.5l-2 0.5l-1 -0.5l-1 -2l-1 0l-1 2l-1 0.5l-3 -1l-2 -4l-0.5 -7l-0.5 -74l1.5 -9l1 -2l1 -1z"/><path fill="#1038f0" fill-rule="evenodd" d="M313 337l1 0l1 0.5l1 3.5l1 0l1 -3.5l1 -1l2 1l1 2.5l1.5 5l0 71l-2 8l-0.5 1.5l-2 0.5l-1 -0.5l-1 -4l-1 0l-1 4l-1 0.5l-2 -0.5l-1 -0.5l-1.5 -8l0 -71l1 -7l0.5 -1l2 -1z"/><path fill="#1868f0" fill-rule="evenodd" d="M312.5 343l1.5 -0.5l0.5 0.5l0.5 0.5l0.5 2.5l0 70l-0.5 2.5l-1 1l-2 -1l-1 -2.5l0 -70l0 -1l1.5 -2zM318.5 343l0.5 -0.5l1 0.5l1 1l0.5 3l0 69l-0.5 2.5l-2 1.5l-1 -1.5l-0.5 -3.5l0 -69l1 -3z"/><path class="c" d="M309.5 331l4.5 -0.5l2 0.5l5 -0.5l2 0.5l2 2l0.5 4l0.5 9l0 75l-0.5 7l-1 3l-1.5 2l-2 0.5l-5 -0.5l-3 0.5l-3 -0.5l-1.5 -2l-1 -3l-0.5 -12l0 -71l1 -11l1.5 -3M311.5 333l3.5 0l1 1.5l1 0l1 -1.5l1 -0.5l2 0.5l1 1l2 4l1 7l0 72l-1 7l-1 4l-2 2.5l-2 0.5l-1 -0.5l-1 -2l-1 0l-1 2l-1 0.5l-3 -1l-2 -4l-0.5 -7l-0.5 -74l1.5 -9l1 -2l1 -1M313 337l1 0l1 0.5l1 3.5l1 0l1 -3.5l1 -1l2 1l1 2.5l1.5 5l0 71l-2 8l-0.5 1.5l-2 0.5l-1 -0.5l-1 -4l-1 0l-1 4l-1 0.5l-2 -0.5l-1 -0.5l-1.5 -8l0 -71l1 -7l0.5 -1l2 -1M312.5 343l1.5 -0.5l0.5 0.5l0.5 0.5l0.5 2.5l0 70l-0.5 2.5l-1 1l-2 -1l-1 -2.5l0 -70l0 -1l1.5 -2M318.5 343l0.5 -0.5l1 0.5l1 1l0.5 3l0 69l-0.5 2.5l-2 1.5l-1 -1.5l-0.5 -3.5l0 -69l1 -3"/><path fill="#2c0a40" fill-rule="evenodd" d="M789 332l1 -1l15 0l1 1l0 5l1 1l0 89l-1 1l0 7l-1 1l-15 0l-2 -3l0 -100l1 -1z"/><path fill="#4c0c80" fill-rule="evenodd" d="M791 332l6 -1l7 1l1 0.5l0.5 1.5l1 4l0 78l-0.5 12l-1 5.5l-1 0.5l-4 0.5l-2 1l-8 -2l-1 -2.5l-0.5 -4l-0.5 -81l1 -11l0.5 -2l1.5 -1z"/><path fill="#1018a8" fill-rule="evenodd" d="M795.5 333l2.5 -1l1 0.5l2 2.5l3 1l1 2.5l1 8.5l-0.5 76l-0.5 4l-1 2.5l-3 1l-2 3l-1 0.5l-2 -0.5l-2 -3l-3 -1l-1 -3.5l-1 -9l0 -72l1 -7l1 -2l3 -1l1.5 -2z"/><path fill="#1038f0" fill-rule="evenodd" d="M796 335l1 -1l1 0l1 1l2 6l3 2l0.5 4l0 71l-0.5 3.5l-3 2l-2 7l-1 1l-1 0l-1 -1l-2 -7l-3 -2l-0.5 -4.5l0 -70l0.5 -4l3 -2l2 -6z"/><path fill="#1868f0" fill-rule="evenodd" d="M797 337l1 0l1 1.5l1.5 9.5l-0.5 69l-1 9.5l-1 2l-1 0l-1 -2l-1.5 -10.5l0.5 -69l1 -8l1 -2z"/><path fill="#18a8e8" fill-rule="evenodd" d="M796.5 341l0.5 -0.5l1 0l0.5 0.5l0.5 2l0.5 4l0 70l-0.5 4.5l-1 3l-1 0l-1 -2.5l-0.5 -5l0 -70l0.5 -4l0.5 -2z"/><path fill="#18d0c8" fill-rule="evenodd" d="M797 345l1 0l0.5 3l0 68l-0.5 3.5l-1 0l-0.5 -3.5l0 -68l0.5 -3z"/><path class="c" d="M806 337l0.5 11l-0.5 80M806 430.5l-1 3l-1 0.5l-4 0.5l-2 1l-8 -2l-1 -2.5l-0.5 -3l-0.5 -15l0 -66l1 -12.5l0.5 -1.5l1.5 -1l7 -1l6 1l1.5 1l0.5 2M795.5 333l2.5 -1l1 0.5l2 2.5l3 1l1 2.5l1 8.5l-0.5 76l-0.5 4l-1 2.5l-3 1l-2 3l-1 0.5l-2 -0.5l-2 -3l-3 -1l-1 -3.5l-1 -9l0 -72l1 -7l1 -2l3 -1l1.5 -2M796 335l1 -1l1 0l1 1l2 6l3 2l0.5 4l0 71l-0.5 3.5l-3 2l-2 7l-1 1l-1 0l-1 -1l-2 -7l-3 -2l-0.5 -4.5l0 -70l0.5 -4l3 -2l2 -6M797 337l1 0l1 1.5l1.5 9.5l-0.5 69l-1 9.5l-1 2l-1 0l-1 -2l-1.5 -10.5l0.5 -69l1 -8l1 -2M796.5 341l0.5 -0.5l1 0l0.5 0.5l0.5 2l0.5 4l0 70l-0.5 4.5l-1 3l-1 0l-1 -2.5l-0.5 -5l0 -70l0.5 -4l0.5 -2M797 345l1 0l0.5 3l0 68l-0.5 3.5l-1 0l-0.5 -3.5l0 -68l0.5 -3"/>
<path d="M67.5 26.5h6M336.5 26.5h-6M67.5 29.5h3M336.5 29.5h-3M67.5 32.5h3M336.5 32.5h-3M67.5 35.5h3M336.5 35.5h-3M67.5 39.5h3M336.5 39.5h-3M67.5 42.5h3M336.5 42.5h-3M67.5 45.5h3M336.5 45.5h-3M67.5 48.5h3M336.5 48.5h-3M67.5 51.5h3M336.5 51.5h-3M67.5 54.5h3M336.5 54.5h-3M67.5 58.5h6M336.5 58.5h-6M67.5 61.5h3M336.5 61.5h-3M67.5 64.5h3M336.5 64.5h-3M67.5 67.5h3M336.5 67.5h-3M67.5 70.5h3M336.5 70.5h-3M67.5 73.5h3M336.5 73.5h-3M67.5 76.5h3M336.5 76.5h-3M67.5 80.5h3M336.5 80.5h-3M67.5 83.5h3M336.5 83.5h-3M67.5 86.5h3M336.5 86.5h-3M67.5 89.5h6M336.5 89.5h-6M67.5 92.5h3M336.5 92.5h-3M67.5 95.5h3M336.5 95.5h-3M67.5 98.5h3M336.5 98.5h-3M67.5 102.5h3M336.5 102.5h-3M67.5 105.5h3M336.5 105.5h-3M67.5 108.5h3M336.5 108.5h-3M67.5 111.5h3M336.5 111.5h-3M67.5 114.5h3M336.5 114.5h-3M67.5 117.5h3M336.5 117.5h-3M67.5 120.5h6M336.5 120.5h-6M67.5 124.5h3M336.5 124.5h-3M67.5 127.5h3M336.5 127.5h-3M67.5 130.5h3M336.5 130.5h-3M67.5 133.5h3M336.5 133.5h-3M67.5 136.5h3M336.5 136.5h-3M67.5 139.5h3M336.5 139.5h-3M67.5 143.5h3M336.5 143.5h-3M67.5 146.5h3M336.5 146.5h-3M67.5 149.5h3M336.5 149.5h-3M67.5 152.5h6M336.5 152.5h-6M67.5 155.5h3M336.5 155.5h-3M67.5 158.5h3M336.5 158.5h-3M67.5 161.5h3M336.5 161.5h-3M67.5 165.5h3M336.5 165.5h-3M67.5 168.5h3M336.5 168.5h-3M67.5 171.5h3M336.5 171.5h-3M67.5 174.5h3M336.5 174.5h-3M67.5 177.5h3M336.5 177.5h-3M67.5 180.5h3M336.5 180.5h-3M67.5 184.5h6M336.5 184.5h-6M67.5 187.5h3M336.5 187.5h-3M67.5 190.5h3M336.5 190.5h-3M67.5 193.5h3M336.5 193.5h-3M67.5 196.5h3M336.5 196.5h-3M67.5 199.5h3M336.5 199.5h-3M67.5 202.5h3M336.5 202.5h-3M67.5 206.5h3M336.5 206.5h-3M67.5 209.5h3M336.5 209.5h-3M67.5 212.5h3M336.5 212.5h-3M67.5 215.5h6M336.5 215.5h-6M67.5 26.5v4M67.5 215.5v-4M134.5 26.5v4M134.5 215.5v-4M202.5 26.5v4M202.5 215.5v-4M269.5 26.5v4M269.5 215.5v-4M336.5 26.5v4M336.5 215.5v-4" class="ln"/>
<rect x="67.5" y="26.5" width="269" height="189" class="ln"/>
<text transform="translate(93.84,20) scale(1,1.22)">Inverted Winds Meridional (coldside)</text>
<text class="n" transform="translate(45.44,33) scale(1,1.17)" x="0.00 6.02 12.04">120</text>
<text class="n" transform="translate(45.44,62) scale(1,1.17)" x="0.00 6.02 12.04">110</text>
<text class="n" transform="translate(45.44,93.5) scale(1,1.17)" x="0.00 6.02 12.04">100</text>
<text class="n" transform="translate(51.46,125) scale(1,1.17)" x="0.00 6.02">90</text>
<text class="n" transform="translate(51.46,156.5) scale(1,1.17)" x="0.00 6.02">80</text>
<text class="n" transform="translate(51.46,188) scale(1,1.17)" x="0.00 6.02">70</text>
<text class="n" transform="translate(51.46,215) scale(1,1.17)" x="0.00 6.02">60</text>
<text class="n" transform="translate(57.97,230) scale(1,1.17)" x="1.20 6.02 12.04">-90</text>
<text class="n" transform="translate(131.24,230) scale(1,1.17)" x="0.00">0</text>
<text class="n" transform="translate(195.48,230) scale(1,1.17)" x="0.00 6.02">90</text>
<text class="n" transform="translate(265.74,230) scale(1,1.17)" x="0.00">0</text>
<text class="n" transform="translate(326.97,230) scale(1,1.17)" x="1.20 6.02 12.04">-90</text>
<text transform="translate(174.41,243) scale(1,1.22)">Lat (deg)</text>
<text transform="translate(33.69,54.5) scale(1,1.22)">A</text>
<text transform="translate(33.69,64.35) scale(1,1.22)">l</text>
<text transform="translate(33.69,74.2) scale(1,1.22)">t</text>
<text transform="translate(33.69,84.05) scale(1,1.22)">i</text>
<text transform="translate(33.69,93.9) scale(1,1.22)">t</text>
<text transform="translate(33.69,103.75) scale(1,1.22)">u</text>
<text transform="translate(33.69,113.6) scale(1,1.22)">d</text>
<text transform="translate(33.69,123.45) scale(1,1.22)">e</text>
<text transform="translate(33.69,143.15) scale(1,1.22)">(</text>
<text transform="translate(33.69,153) scale(1,1.22)">k</text>
<text transform="translate(33.69,162.85) scale(1,1.22)">m</text>
<text transform="translate(33.69,172.7) scale(1,1.22)">)</text>
<rect x="374.5" y="27.50" width="28" height="9.70" fill="#ff4cf0"/>
<rect x="374.5" y="36.90" width="28" height="9.70" fill="#ff28b0"/>
<rect x="374.5" y="46.30" width="28" height="9.70" fill="#ff0060"/>
<rect x="374.5" y="55.70" width="28" height="9.70" fill="#e82060"/>
<rect x="374.5" y="65.10" width="28" height="9.70" fill="#c84850"/>
<rect x="374.5" y="74.50" width="28" height="9.70" fill="#e07828"/>
<rect x="374.5" y="83.90" width="28" height="9.70" fill="#ffa808"/>
<rect x="374.5" y="93.30" width="28" height="9.70" fill="#ffd008"/>
<rect x="374.5" y="102.70" width="28" height="9.70" fill="#ffff08"/>
<rect x="374.5" y="112.10" width="28" height="9.70" fill="#c0f810"/>
<rect x="374.5" y="121.50" width="28" height="9.70" fill="#86f812"/>
<rect x="374.5" y="130.90" width="28" height="9.70" fill="#40f278"/>
<rect x="374.5" y="140.30" width="28" height="9.70" fill="#18e8a8"/>
<rect x="374.5" y="149.70" width="28" height="9.70" fill="#18d0c8"/>
<rect x="374.5" y="159.10" width="28" height="9.70" fill="#18a8e8"/>
<rect x="374.5" y="168.50" width="28" height="9.70" fill="#1868f0"/>
<rect x="374.5" y="177.90" width="28" height="9.70" fill="#1038f0"/>
<rect x="374.5" y="187.30" width="28" height="9.70" fill="#1018a8"/>
<rect x="374.5" y="196.70" width="28" height="9.70" fill="#4c0c80"/>
<rect x="374.5" y="206.10" width="28" height="9.70" fill="#2c0a40"/>
<path d="M402.5 50.5h-7M402.5 74.5h-7M402.5 98.5h-7M402.5 121.5h-7M402.5 144.5h-7M402.5 168.5h-7M402.5 192.5h-7" class="ln"/>
<rect x="374.5" y="27.5" width="28" height="188" class="ln"/>
<text class="n" transform="translate(413.90,29) scale(1,1.17)" x="0.00 6.02 12.04 19.56 24.08">200.0</text>
<text class="n" transform="translate(413.90,52.5) scale(1,1.17)" x="0.00 6.02 12.04 19.56 24.08">150.0</text>
<text class="n" transform="translate(413.90,76) scale(1,1.17)" x="0.00 6.02 12.04 19.56 24.08">100.0</text>
<text class="n" transform="translate(419.92,99.5) scale(1,1.17)" x="0.00 6.02 13.54 18.06">50.0</text>
<text class="n" transform="translate(425.94,123) scale(1,1.17)" x="0.00 7.52 12.04">0.0</text>
<text class="n" transform="translate(413.90,146.5) scale(1,1.17)" x="1.20 6.02 12.04 19.56 24.08">-50.0</text>
<text class="n" transform="translate(407.88,170) scale(1,1.17)" x="1.20 6.02 12.04 18.06 25.58 30.10">-100.0</text>
<text class="n" transform="translate(407.88,193.5) scale(1,1.17)" x="1.20 6.02 12.04 18.06 25.58 30.10">-150.0</text>
<text class="n" transform="translate(407.88,217) scale(1,1.17)" x="1.20 6.02 12.04 18.06 25.58 30.10">-200.0</text>
<path d="M547.5 26.5h6M816.5 26.5h-6M547.5 29.5h3M816.5 29.5h-3M547.5 32.5h3M816.5 32.5h-3M547.5 35.5h3M816.5 35.5h-3M547.5 39.5h3M816.5 39.5h-3M547.5 42.5h3M816.5 42.5h-3M547.5 45.5h3M816.5 45.5h-3M547.5 48.5h3M816.5 48.5h-3M547.5 51.5h3M816.5 51.5h-3M547.5 54.5h3M816.5 54.5h-3M547.5 58.5h6M816.5 58.5h-6M547.5 61.5h3M816.5 61.5h-3M547.5 64.5h3M816.5 64.5h-3M547.5 67.5h3M816.5 67.5h-3M547.5 70.5h3M816.5 70.5h-3M547.5 73.5h3M816.5 73.5h-3M547.5 76.5h3M816.5 76.5h-3M547.5 80.5h3M816.5 80.5h-3M547.5 83.5h3M816.5 83.5h-3M547.5 86.5h3M816.5 86.5h-3M547.5 89.5h6M816.5 89.5h-6M547.5 92.5h3M816.5 92.5h-3M547.5 95.5h3M816.5 95.5h-3M547.5 98.5h3M816.5 98.5h-3M547.5 102.5h3M816.5 102.5h-3M547.5 105.5h3M816.5 105.5h-3M547.5 108.5h3M816.5 108.5h-3M547.5 111.5h3M816.5 111.5h-3M547.5 114.5h3M816.5 114.5h-3M547.5 117.5h3M816.5 117.5h-3M547.5 120.5h6M816.5 120.5h-6M547.5 124.5h3M816.5 124.5h-3M547.5 127.5h3M816.5 127.5h-3M547.5 130.5h3M816.5 130.5h-3M547.5 133.5h3M816.5 133.5h-3M547.5 136.5h3M816.5 136.5h-3M547.5 139.5h3M816.5 139.5h-3M547.5 143.5h3M816.5 143.5h-3M547.5 146.5h3M816.5 146.5h-3M547.5 149.5h3M816.5 149.5h-3M547.5 152.5h6M816.5 152.5h-6M547.5 155.5h3M816.5 155.5h-3M547.5 158.5h3M816.5 158.5h-3M547.5 161.5h3M816.5 161.5h-3M547.5 165.5h3M816.5 165.5h-3M547.5 168.5h3M816.5 168.5h-3M547.5 171.5h3M816.5 171.5h-3M547.5 174.5h3M816.5 174.5h-3M547.5 177.5h3M816.5 177.5h-3M547.5 180.5h3M816.5 180.5h-3M547.5 184.5h6M816.5 184.5h-6M547.5 187.5h3M816.5 187.5h-3M547.5 190.5h3M816.5 190.5h-3M547.5 193.5h3M816.5 193.5h-3M547.5 196.5h3M816.5 196.5h-3M547.5 199.5h3M816.5 199.5h-3M547.5 202.5h3M816.5 202.5h-3M547.5 206.5h3M816.5 206.5h-3M547.5 209.5h3M816.5 209.5h-3M547.5 212.5h3M816.5 212.5h-3M547.5 215.5h6M816.5 215.5h-6M547.5 26.5v4M547.5 215.5v-4M614.5 26.5v4M614.5 215.5v-4M682.5 26.5v4M682.5 215.5v-4M749.5 26.5v4M749.5 215.5v-4M816.5 26.5v4M816.5 215.5v-4" class="ln"/>
<rect x="547.5" y="26.5" width="269" height="189" class="ln"/>
<text transform="translate(588.89,20) scale(1,1.22)">Inverted Winds Zonal (coldside)</text>
<text class="n" transform="translate(525.44,33) scale(1,1.17)" x="0.00 6.02 12.04">120</text>
<text class="n" transform="translate(525.44,62) scale(1,1.17)" x="0.00 6.02 12.04">110</text>
<text class="n" transform="translate(525.44,93.5) scale(1,1.17)" x="0.00 6.02 12.04">100</text>
<text class="n" transform="translate(531.46,125) scale(1,1.17)" x="0.00 6.02">90</text>
<text class="n" transform="translate(531.46,156.5) scale(1,1.17)" x="0.00 6.02">80</text>
<text class="n" transform="translate(531.46,188) scale(1,1.17)" x="0.00 6.02">70</text>
<text class="n" transform="translate(531.46,215) scale(1,1.17)" x="0.00 6.02">60</text>
<text class="n" transform="translate(537.97,230) scale(1,1.17)" x="1.20 6.02 12.04">-90</text>
<text class="n" transform="translate(611.24,230) scale(1,1.17)" x="0.00">0</text>
<text class="n" transform="translate(675.48,230) scale(1,1.17)" x="0.00 6.02">90</text>
<text class="n" transform="translate(745.74,230) scale(1,1.17)" x="0.00">0</text>
<text class="n" transform="translate(806.97,230) scale(1,1.17)" x="1.20 6.02 12.04">-90</text>
<text transform="translate(654.41,243) scale(1,1.22)">Lat (deg)</text>
<text transform="translate(513.69,54.5) scale(1,1.22)">A</text>
<text transform="translate(513.69,64.35) scale(1,1.22)">l</text>
<text transform="translate(513.69,74.2) scale(1,1.22)">t</text>
<text transform="translate(513.69,84.05) scale(1,1.22)">i</text>
<text transform="translate(513.69,93.9) scale(1,1.22)">t</text>
<text transform="translate(513.69,103.75) scale(1,1.22)">u</text>
<text transform="translate(513.69,113.6) scale(1,1.22)">d</text>
<text transform="translate(513.69,123.45) scale(1,1.22)">e</text>
<text transform="translate(513.69,143.15) scale(1,1.22)">(</text>
<text transform="translate(513.69,153) scale(1,1.22)">k</text>
<text transform="translate(513.69,162.85) scale(1,1.22)">m</text>
<text transform="translate(513.69,172.7) scale(1,1.22)">)</text>
<rect x="845.5" y="27.50" width="28" height="9.70" fill="#ff4cf0"/>
<rect x="845.5" y="36.90" width="28" height="9.70" fill="#ff28b0"/>
<rect x="845.5" y="46.30" width="28" height="9.70" fill="#ff0060"/>
<rect x="845.5" y="55.70" width="28" height="9.70" fill="#e82060"/>
<rect x="845.5" y="65.10" width="28" height="9.70" fill="#c84850"/>
<rect x="845.5" y="74.50" width="28" height="9.70" fill="#e07828"/>
<rect x="845.5" y="83.90" width="28" height="9.70" fill="#ffa808"/>
<rect x="845.5" y="93.30" width="28" height="9.70" fill="#ffd008"/>
<rect x="845.5" y="102.70" width="28" height="9.70" fill="#ffff08"/>
<rect x="845.5" y="112.10" width="28" height="9.70" fill="#c0f810"/>
<rect x="845.5" y="121.50" width="28" height="9.70" fill="#86f812"/>
<rect x="845.5" y="130.90" width="28" height="9.70" fill="#40f278"/>
<rect x="845.5" y="140.30" width="28" height="9.70" fill="#18e8a8"/>
<rect x="845.5" y="149.70" width="28" height="9.70" fill="#18d0c8"/>
<rect x="845.5" y="159.10" width="28" height="9.70" fill="#18a8e8"/>
<rect x="845.5" y="168.50" width="28" height="9.70" fill="#1868f0"/>
<rect x="845.5" y="177.90" width="28" height="9.70" fill="#1038f0"/>
<rect x="845.5" y="187.30" width="28" height="9.70" fill="#1018a8"/>
<rect x="845.5" y="196.70" width="28" height="9.70" fill="#4c0c80"/>
<rect x="845.5" y="206.10" width="28" height="9.70" fill="#2c0a40"/>
<path d="M873.5 50.5h-7M873.5 74.5h-7M873.5 98.5h-7M873.5 121.5h-7M873.5 144.5h-7M873.5 168.5h-7M873.5 192.5h-7" class="ln"/>
<rect x="845.5" y="27.5" width="28" height="188" class="ln"/>
<text class="n" transform="translate(884.90,29) scale(1,1.17)" x="0.00 6.02 12.04 19.56 24.08">200.0</text>
<text class="n" transform="translate(884.90,52.5) scale(1,1.17)" x="0.00 6.02 12.04 19.56 24.08">150.0</text>
<text class="n" transform="translate(884.90,76) scale(1,1.17)" x="0.00 6.02 12.04 19.56 24.08">100.0</text>
<text class="n" transform="translate(890.92,99.5) scale(1,1.17)" x="0.00 6.02 13.54 18.06">50.0</text>
<text class="n" transform="translate(896.94,123) scale(1,1.17)" x="0.00 7.52 12.04">0.0</text>
<text class="n" transform="translate(884.90,146.5) scale(1,1.17)" x="1.20 6.02 12.04 19.56 24.08">-50.0</text>
<text class="n" transform="translate(878.88,170) scale(1,1.17)" x="1.20 6.02 12.04 18.06 25.58 30.10">-100.0</text>
<text class="n" transform="translate(878.88,193.5) scale(1,1.17)" x="1.20 6.02 12.04 18.06 25.58 30.10">-150.0</text>
<text class="n" transform="translate(878.88,217) scale(1,1.17)" x="1.20 6.02 12.04 18.06 25.58 30.10">-200.0</text>
<path d="M67.5 296.5h6M336.5 296.5h-6M67.5 299.5h3M336.5 299.5h-3M67.5 302.5h3M336.5 302.5h-3M67.5 305.5h3M336.5 305.5h-3M67.5 309.5h3M336.5 309.5h-3M67.5 312.5h3M336.5 312.5h-3M67.5 315.5h3M336.5 315.5h-3M67.5 318.5h3M336.5 318.5h-3M67.5 321.5h3M336.5 321.5h-3M67.5 324.5h3M336.5 324.5h-3M67.5 328.5h6M336.5 328.5h-6M67.5 331.5h3M336.5 331.5h-3M67.5 334.5h3M336.5 334.5h-3M67.5 337.5h3M336.5 337.5h-3M67.5 340.5h3M336.5 340.5h-3M67.5 343.5h3M336.5 343.5h-3M67.5 346.5h3M336.5 346.5h-3M67.5 350.5h3M336.5 350.5h-3M67.5 353.5h3M336.5 353.5h-3M67.5 356.5h3M336.5 356.5h-3M67.5 359.5h6M336.5 359.5h-6M67.5 362.5h3M336.5 362.5h-3M67.5 365.5h3M336.5 365.5h-3M67.5 368.5h3M336.5 368.5h-3M67.5 372.5h3M336.5 372.5h-3M67.5 375.5h3M336.5 375.5h-3M67.5 378.5h3M336.5 378.5h-3M67.5 381.5h3M336.5 381.5h-3M67.5 384.5h3M336.5 384.5h-3M67.5 387.5h3M336.5 387.5h-3M67.5 390.5h6M336.5 390.5h-6M67.5 394.5h3M336.5 394.5h-3M67.5 397.5h3M336.5 397.5h-3M67.5 400.5h3M336.5 400.5h-3M67.5 403.5h3M336.5 403.5h-3M67.5 406.5h3M336.5 406.5h-3M67.5 409.5h3M336.5 409.5h-3M67.5 413.5h3M336.5 413.5h-3M67.5 416.5h3M336.5 416.5h-3M67.5 419.5h3M336.5 419.5h-3M67.5 422.5h6M336.5 422.5h-6M67.5 425.5h3M336.5 425.5h-3M67.5 428.5h3M336.5 428.5h-3M67.5 431.5h3M336.5 431.5h-3M67.5 435.5h3M336.5 435.5h-3M67.5 438.5h3M336.5 438.5h-3M67.5 441.5h3M336.5 441.5h-3M67.5 444.5h3M336.5 444.5h-3M67.5 447.5h3M336.5 447.5h-3M67.5 450.5h3M336.5 450.5h-3M67.5 454.5h6M336.5 454.5h-6M67.5 457.5h3M336.5 457.5h-3M67.5 460.5h3M336.5 460.5h-3M67.5 463.5h3M336.5 463.5h-3M67.5 466.5h3M336.5 466.5h-3M67.5 469.5h3M336.5 469.5h-3M67.5 472.5h3M336.5 472.5h-3M67.5 476.5h3M336.5 476.5h-3M67.5 479.5h3M336.5 479.5h-3M67.5 482.5h3M336.5 482.5h-3M67.5 485.5h6M336.5 485.5h-6M67.5 296.5v4M67.5 485.5v-4M134.5 296.5v4M134.5 485.5v-4M202.5 296.5v4M202.5 485.5v-4M269.5 296.5v4M269.5 485.5v-4M336.5 296.5v4M336.5 485.5v-4" class="ln"/>
<rect x="67.5" y="296.5" width="269" height="189" class="ln"/>
<text transform="translate(93.84,290) scale(1,1.22)">Inverted Winds Meridional (warmside)</text>
<text class="n" transform="translate(45.44,303) scale(1,1.17)" x="0.00 6.02 12.04">120</text>
<text class="n" transform="translate(45.44,332) scale(1,1.17)" x="0.00 6.02 12.04">110</text>
<text class="n" transform="translate(45.44,363.5) scale(1,1.17)" x="0.00 6.02 12.04">100</text>
<text class="n" transform="translate(51.46,395) scale(1,1.17)" x="0.00 6.02">90</text>
<text class="n" transform="translate(51.46,426.5) scale(1,1.17)" x="0.00 6.02">80</text>
<text class="n" transform="translate(51.46,458) scale(1,1.17)" x="0.00 6.02">70</text>
<text class="n" transform="translate(51.46,485) scale(1,1.17)" x="0.00 6.02">60</text>
<text class="n" transform="translate(57.97,500) scale(1,1.17)" x="1.20 6.02 12.04">-90</text>
<text class="n" transform="translate(131.24,500) scale(1,1.17)" x="0.00">0</text>
<text class="n" transform="translate(195.48,500) scale(1,1.17)" x="0.00 6.02">90</text>
<text class="n" transform="translate(265.74,500) scale(1,1.17)" x="0.00">0</text>
<text class="n" transform="translate(326.97,500) scale(1,1.17)" x="1.20 6.02 12.04">-90</text>
<text transform="translate(174.41,513) scale(1,1.22)">Lat (deg)</text>
<text transform="translate(33.69,324.5) scale(1,1.22)">A</text>
<text transform="translate(33.69,334.35) scale(1,1.22)">l</text>
<text transform="translate(33.69,344.2) scale(1,1.22)">t</text>
<text transform="translate(33.69,354.05) scale(1,1.22)">i</text>
<text transform="translate(33.69,363.9) scale(1,1.22)">t</text>
<text transform="translate(33.69,373.75) scale(1,1.22)">u</text>
<text transform="translate(33.69,383.6) scale(1,1.22)">d</text>
<text transform="translate(33.69,393.45) scale(1,1.22)">e</text>
<text transform="translate(33.69,413.15) scale(1,1.22)">(</text>
<text transform="translate(33.69,423) scale(1,1.22)">k</text>
<text transform="translate(33.69,432.85) scale(1,1.22)">m</text>
<text transform="translate(33.69,442.7) scale(1,1.22)">)</text>
<rect x="374.5" y="297.50" width="28" height="9.70" fill="#ff4cf0"/>
<rect x="374.5" y="306.90" width="28" height="9.70" fill="#ff28b0"/>
<rect x="374.5" y="316.30" width="28" height="9.70" fill="#ff0060"/>
<rect x="374.5" y="325.70" width="28" height="9.70" fill="#e82060"/>
<rect x="374.5" y="335.10" width="28" height="9.70" fill="#c84850"/>
<rect x="374.5" y="344.50" width="28" height="9.70" fill="#e07828"/>
<rect x="374.5" y="353.90" width="28" height="9.70" fill="#ffa808"/>
<rect x="374.5" y="363.30" width="28" height="9.70" fill="#ffd008"/>
<rect x="374.5" y="372.70" width="28" height="9.70" fill="#ffff08"/>
<rect x="374.5" y="382.10" width="28" height="9.70" fill="#c0f810"/>
<rect x="374.5" y="391.50" width="28" height="9.70" fill="#86f812"/>
<rect x="374.5" y="400.90" width="28" height="9.70" fill="#40f278"/>
<rect x="374.5" y="410.30" width="28" height="9.70" fill="#18e8a8"/>
<rect x="374.5" y="419.70" width="28" height="9.70" fill="#18d0c8"/>
<rect x="374.5" y="429.10" width="28" height="9.70" fill="#18a8e8"/>
<rect x="374.5" y="438.50" width="28" height="9.70" fill="#1868f0"/>
<rect x="374.5" y="447.90" width="28" height="9.70" fill="#1038f0"/>
<rect x="374.5" y="457.30" width="28" height="9.70" fill="#1018a8"/>
<rect x="374.5" y="466.70" width="28" height="9.70" fill="#4c0c80"/>
<rect x="374.5" y="476.10" width="28" height="9.70" fill="#2c0a40"/>
<path d="M402.5 320.5h-7M402.5 344.5h-7M402.5 368.5h-7M402.5 391.5h-7M402.5 414.5h-7M402.5 438.5h-7M402.5 462.5h-7" class="ln"/>
<rect x="374.5" y="297.5" width="28" height="188" class="ln"/>
<text class="n" transform="translate(413.90,299) scale(1,1.17)" x="0.00 6.02 12.04 19.56 24.08">200.0</text>
<text class="n" transform="translate(413.90,322.5) scale(1,1.17)" x="0.00 6.02 12.04 19.56 24.08">150.0</text>
<text class="n" transform="translate(413.90,346) scale(1,1.17)" x="0.00 6.02 12.04 19.56 24.08">100.0</text>
<text class="n" transform="translate(419.92,369.5) scale(1,1.17)" x="0.00 6.02 13.54 18.06">50.0</text>
<text class="n" transform="translate(425.94,393) scale(1,1.17)" x="0.00 7.52 12.04">0.0</text>
<text class="n" transform="translate(413.90,416.5) scale(1,1.17)" x="1.20 6.02 12.04 19.56 24.08">-50.0</text>
<text class="n" transform="translate(407.88,440) scale(1,1.17)" x="1.20 6.02 12.04 18.06 25.58 30.10">-100.0</text>
<text class="n" transform="translate(407.88,463.5) scale(1,1.17)" x="1.20 6.02 12.04 18.06 25.58 30.10">-150.0</text>
<text class="n" transform="translate(407.88,487) scale(1,1.17)" x="1.20 6.02 12.04 18.06 25.58 30.10">-200.0</text>
<path d="M547.5 296.5h6M816.5 296.5h-6M547.5 299.5h3M816.5 299.5h-3M547.5 302.5h3M816.5 302.5h-3M547.5 305.5h3M816.5 305.5h-3M547.5 309.5h3M816.5 309.5h-3M547.5 312.5h3M816.5 312.5h-3M547.5 315.5h3M816.5 315.5h-3M547.5 318.5h3M816.5 318.5h-3M547.5 321.5h3M816.5 321.5h-3M547.5 324.5h3M816.5 324.5h-3M547.5 328.5h6M816.5 328.5h-6M547.5 331.5h3M816.5 331.5h-3M547.5 334.5h3M816.5 334.5h-3M547.5 337.5h3M816.5 337.5h-3M547.5 340.5h3M816.5 340.5h-3M547.5 343.5h3M816.5 343.5h-3M547.5 346.5h3M816.5 346.5h-3M547.5 350.5h3M816.5 350.5h-3M547.5 353.5h3M816.5 353.5h-3M547.5 356.5h3M816.5 356.5h-3M547.5 359.5h6M816.5 359.5h-6M547.5 362.5h3M816.5 362.5h-3M547.5 365.5h3M816.5 365.5h-3M547.5 368.5h3M816.5 368.5h-3M547.5 372.5h3M816.5 372.5h-3M547.5 375.5h3M816.5 375.5h-3M547.5 378.5h3M816.5 378.5h-3M547.5 381.5h3M816.5 381.5h-3M547.5 384.5h3M816.5 384.5h-3M547.5 387.5h3M816.5 387.5h-3M547.5 390.5h6M816.5 390.5h-6M547.5 394.5h3M816.5 394.5h-3M547.5 397.5h3M816.5 397.5h-3M547.5 400.5h3M816.5 400.5h-3M547.5 403.5h3M816.5 403.5h-3M547.5 406.5h3M816.5 406.5h-3M547.5 409.5h3M816.5 409.5h-3M547.5 413.5h3M816.5 413.5h-3M547.5 416.5h3M816.5 416.5h-3M547.5 419.5h3M816.5 419.5h-3M547.5 422.5h6M816.5 422.5h-6M547.5 425.5h3M816.5 425.5h-3M547.5 428.5h3M816.5 428.5h-3M547.5 431.5h3M816.5 431.5h-3M547.5 435.5h3M816.5 435.5h-3M547.5 438.5h3M816.5 438.5h-3M547.5 441.5h3M816.5 441.5h-3M547.5 444.5h3M816.5 444.5h-3M547.5 447.5h3M816.5 447.5h-3M547.5 450.5h3M816.5 450.5h-3M547.5 454.5h6M816.5 454.5h-6M547.5 457.5h3M816.5 457.5h-3M547.5 460.5h3M816.5 460.5h-3M547.5 463.5h3M816.5 463.5h-3M547.5 466.5h3M816.5 466.5h-3M547.5 469.5h3M816.5 469.5h-3M547.5 472.5h3M816.5 472.5h-3M547.5 476.5h3M816.5 476.5h-3M547.5 479.5h3M816.5 479.5h-3M547.5 482.5h3M816.5 482.5h-3M547.5 485.5h6M816.5 485.5h-6M547.5 296.5v4M547.5 485.5v-4M614.5 296.5v4M614.5 485.5v-4M682.5 296.5v4M682.5 485.5v-4M749.5 296.5v4M749.5 485.5v-4M816.5 296.5v4M816.5 485.5v-4" class="ln"/>
<rect x="547.5" y="296.5" width="269" height="189" class="ln"/>
<text transform="translate(588.89,290) scale(1,1.22)">Inverted Winds Zonal (warmside)</text>
<text class="n" transform="translate(525.44,303) scale(1,1.17)" x="0.00 6.02 12.04">120</text>
<text class="n" transform="translate(525.44,332) scale(1,1.17)" x="0.00 6.02 12.04">110</text>
<text class="n" transform="translate(525.44,363.5) scale(1,1.17)" x="0.00 6.02 12.04">100</text>
<text class="n" transform="translate(531.46,395) scale(1,1.17)" x="0.00 6.02">90</text>
<text class="n" transform="translate(531.46,426.5) scale(1,1.17)" x="0.00 6.02">80</text>
<text class="n" transform="translate(531.46,458) scale(1,1.17)" x="0.00 6.02">70</text>
<text class="n" transform="translate(531.46,485) scale(1,1.17)" x="0.00 6.02">60</text>
<text class="n" transform="translate(537.97,500) scale(1,1.17)" x="1.20 6.02 12.04">-90</text>
<text class="n" transform="translate(611.24,500) scale(1,1.17)" x="0.00">0</text>
<text class="n" transform="translate(675.48,500) scale(1,1.17)" x="0.00 6.02">90</text>
<text class="n" transform="translate(745.74,500) scale(1,1.17)" x="0.00">0</text>
<text class="n" transform="translate(806.97,500) scale(1,1.17)" x="1.20 6.02 12.04">-90</text>
<text transform="translate(654.41,513) scale(1,1.22)">Lat (deg)</text>
<text transform="translate(513.69,324.5) scale(1,1.22)">A</text>
<text transform="translate(513.69,334.35) scale(1,1.22)">l</text>
<text transform="translate(513.69,344.2) scale(1,1.22)">t</text>
<text transform="translate(513.69,354.05) scale(1,1.22)">i</text>
<text transform="translate(513.69,363.9) scale(1,1.22)">t</text>
<text transform="translate(513.69,373.75) scale(1,1.22)">u</text>
<text transform="translate(513.69,383.6) scale(1,1.22)">d</text>
<text transform="translate(513.69,393.45) scale(1,1.22)">e</text>
<text transform="translate(513.69,413.15) scale(1,1.22)">(</text>
<text transform="translate(513.69,423) scale(1,1.22)">k</text>
<text transform="translate(513.69,432.85) scale(1,1.22)">m</text>
<text transform="translate(513.69,442.7) scale(1,1.22)">)</text>
<text transform="translate(576.15,525) scale(1,1.22)"><tspan class="d" x="0.15 6.17 12.19 18.21 24.23 30.25 36.27">2011182</tspan><tspan x="42.14">v</tspan><tspan class="d" x="48.31 54.33">01</tspan><tspan x="60.20"> Wed Aug </tspan><tspan class="d" x="114.53 120.55">10</tspan><tspan x="126.42"> </tspan><tspan class="d" x="132.59 138.61">09</tspan><tspan x="144.48">:</tspan><tspan class="d" x="150.65 156.67">23</tspan><tspan x="162.54">:</tspan><tspan class="d" x="168.71 174.73">40</tspan><tspan x="180.60"> </tspan><tspan class="d" x="186.77 192.79 198.81 204.83">2016</tspan></text>
<rect x="845.5" y="297.50" width="28" height="9.70" fill="#ff4cf0"/>
<rect x="845.5" y="306.90" width="28" height="9.70" fill="#ff28b0"/>
<rect x="845.5" y="316.30" width="28" height="9.70" fill="#ff0060"/>
<rect x="845.5" y="325.70" width="28" height="9.70" fill="#e82060"/>
<rect x="845.5" y="335.10" width="28" height="9.70" fill="#c84850"/>
<rect x="845.5" y="344.50" width="28" height="9.70" fill="#e07828"/>
<rect x="845.5" y="353.90" width="28" height="9.70" fill="#ffa808"/>
<rect x="845.5" y="363.30" width="28" height="9.70" fill="#ffd008"/>
<rect x="845.5" y="372.70" width="28" height="9.70" fill="#ffff08"/>
<rect x="845.5" y="382.10" width="28" height="9.70" fill="#c0f810"/>
<rect x="845.5" y="391.50" width="28" height="9.70" fill="#86f812"/>
<rect x="845.5" y="400.90" width="28" height="9.70" fill="#40f278"/>
<rect x="845.5" y="410.30" width="28" height="9.70" fill="#18e8a8"/>
<rect x="845.5" y="419.70" width="28" height="9.70" fill="#18d0c8"/>
<rect x="845.5" y="429.10" width="28" height="9.70" fill="#18a8e8"/>
<rect x="845.5" y="438.50" width="28" height="9.70" fill="#1868f0"/>
<rect x="845.5" y="447.90" width="28" height="9.70" fill="#1038f0"/>
<rect x="845.5" y="457.30" width="28" height="9.70" fill="#1018a8"/>
<rect x="845.5" y="466.70" width="28" height="9.70" fill="#4c0c80"/>
<rect x="845.5" y="476.10" width="28" height="9.70" fill="#2c0a40"/>
<path d="M873.5 320.5h-7M873.5 344.5h-7M873.5 368.5h-7M873.5 391.5h-7M873.5 414.5h-7M873.5 438.5h-7M873.5 462.5h-7" class="ln"/>
<rect x="845.5" y="297.5" width="28" height="188" class="ln"/>
<text class="n" transform="translate(884.90,299) scale(1,1.17)" x="0.00 6.02 12.04 19.56 24.08">200.0</text>
<text class="n" transform="translate(884.90,322.5) scale(1,1.17)" x="0.00 6.02 12.04 19.56 24.08">150.0</text>
<text class="n" transform="translate(884.90,346) scale(1,1.17)" x="0.00 6.02 12.04 19.56 24.08">100.0</text>
<text class="n" transform="translate(890.92,369.5) scale(1,1.17)" x="0.00 6.02 13.54 18.06">50.0</text>
<text class="n" transform="translate(896.94,393) scale(1,1.17)" x="0.00 7.52 12.04">0.0</text>
<text class="n" transform="translate(884.90,416.5) scale(1,1.17)" x="1.20 6.02 12.04 19.56 24.08">-50.0</text>
<text class="n" transform="translate(878.88,440) scale(1,1.17)" x="1.20 6.02 12.04 18.06 25.58 30.10">-100.0</text>
<text class="n" transform="translate(878.88,463.5) scale(1,1.17)" x="1.20 6.02 12.04 18.06 25.58 30.10">-150.0</text>
<text class="n" transform="translate(878.88,487) scale(1,1.17)" x="1.20 6.02 12.04 18.06 25.58 30.10">-200.0</text>
</svg>
</body></html>
